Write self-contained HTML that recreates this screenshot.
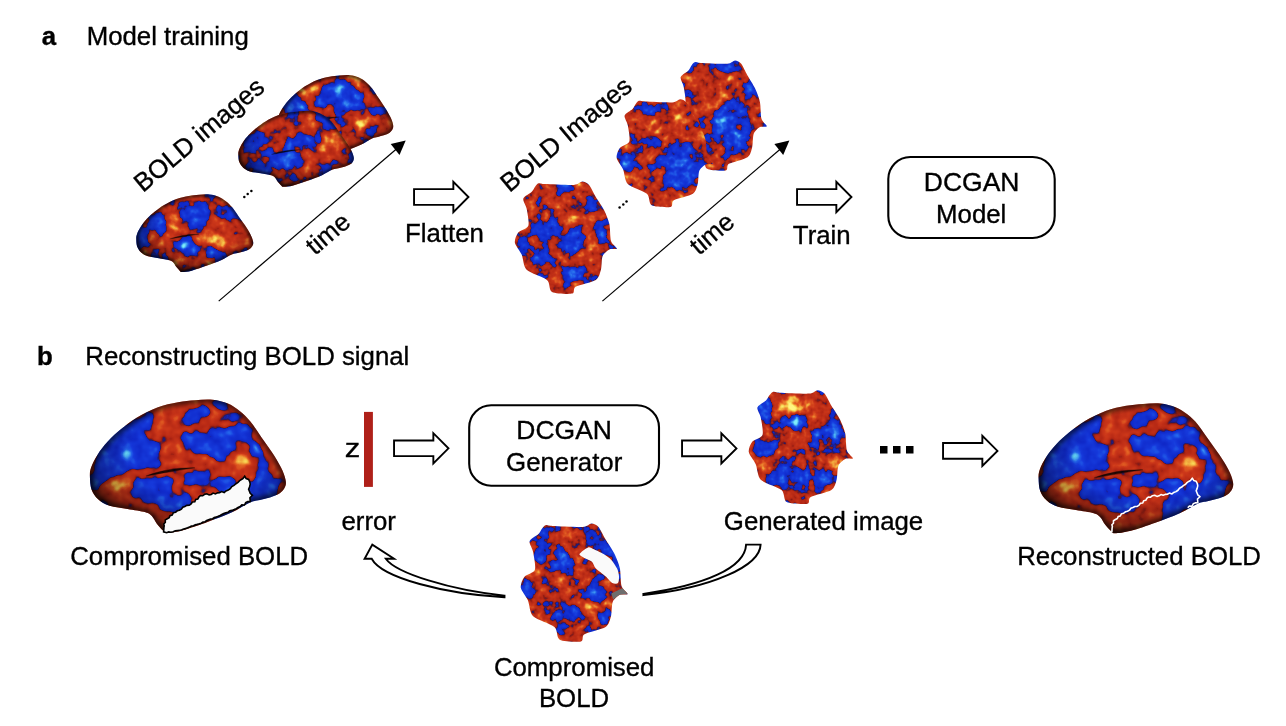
<!DOCTYPE html>
<html><head><meta charset="utf-8"><style>
html,body{margin:0;padding:0;background:#fff;width:1286px;height:726px;overflow:hidden}
svg{position:absolute;left:0;top:0;will-change:transform}
text{font-family:"Liberation Sans",sans-serif}
</style></head><body>
<svg width="1286" height="726" viewBox="0 0 1286 726">
<defs>
<filter id="sblur" x="-20%" y="-100%" width="140%" height="300%"><feGaussianBlur stdDeviation="0.6"/></filter>
<filter id="rimblur2" x="-10%" y="-10%" width="120%" height="120%"><feGaussianBlur stdDeviation="1.5"/></filter>
<filter id="rimblur" x="-10%" y="-10%" width="120%" height="120%"><feGaussianBlur stdDeviation="2.2"/></filter>
<radialGradient id="shade" cx="0.55" cy="0.4" r="0.62">
<stop offset="0.55" stop-color="#000" stop-opacity="0"/>
<stop offset="0.85" stop-color="#000" stop-opacity="0.3"/>
<stop offset="1" stop-color="#000" stop-opacity="0.7"/>
</radialGradient>
<clipPath id="c1"><path d="M0.6,77.0 C0.5,73.3 0.6,71.6 1.9,68.0 C3.1,64.4 5.3,59.9 8.1,55.6 C10.8,51.3 14.4,46.5 18.4,42.2 C22.3,37.9 27.0,33.8 31.8,29.8 C36.6,25.8 41.3,22.0 47.3,18.4 C53.3,14.8 61.1,10.7 68.0,8.1 C74.9,5.5 82.4,4.1 88.7,2.9 C95.0,1.7 99.9,1.3 105.7,0.9 C111.5,0.5 117.9,-0.1 123.4,0.5 C128.9,1.1 134.1,2.4 138.6,4.3 C143.1,6.2 146.9,8.9 150.7,11.9 C154.5,14.9 157.8,18.2 161.3,22.5 C164.8,26.8 168.4,32.7 171.9,37.7 C175.4,42.8 179.2,47.8 182.5,52.8 C185.8,57.8 189.3,63.5 191.6,68.0 C193.9,72.5 195.5,76.8 196.2,80.1 C196.9,83.3 196.8,85.2 195.8,87.5 C194.9,89.8 193.0,92.2 190.5,94.0 C188.0,95.8 184.0,97.1 180.7,98.2 C177.4,99.3 174.0,99.9 170.7,100.7 C167.4,101.5 165.4,101.2 160.7,103.2 C156.0,105.2 149.8,109.8 142.7,113.0 C135.6,116.2 126.4,119.7 118.2,122.7 C110.0,125.7 100.5,129.1 93.7,130.9 C86.9,132.7 80.7,133.4 77.3,133.4 C73.9,133.4 74.9,132.4 73.3,130.9 C71.7,129.4 69.3,126.7 67.5,124.4 C65.7,122.1 64.6,118.9 62.7,117.0 C60.8,115.1 60.2,114.2 56.1,113.0 C52.0,111.8 44.2,110.8 38.2,109.7 C32.2,108.6 25.1,108.0 20.2,106.4 C15.3,104.8 11.8,102.6 8.8,99.9 C5.8,97.2 3.6,93.9 2.2,90.1 C0.8,86.3 0.7,80.7 0.6,77.0Z" transform="translate(135.9,194.2) scale(0.5968,0.5841)"/></clipPath>
<filter id="f1" filterUnits="userSpaceOnUse" x="132.9" y="191.2" width="123.1" height="83.8" color-interpolation-filters="sRGB">
<feGaussianBlur in="SourceGraphic" stdDeviation="3" result="b"/>
<feTurbulence type="fractalNoise" baseFrequency="0.06" numOctaves="2" seed="61" result="t1"/>
<feColorMatrix in="t1" type="matrix" values="1 0 0 0 0 1 0 0 0 0 1 0 0 0 0 0 0 0 0 1" result="n1"/>
<feTurbulence type="fractalNoise" baseFrequency="0.14" numOctaves="2" seed="11" result="t2"/>
<feColorMatrix in="t2" type="matrix" values="0 1 0 0 0 0 1 0 0 0 0 1 0 0 0 0 0 0 0 1" result="n2"/>
<feComposite in="n1" in2="n2" operator="arithmetic" k1="0" k2="0.85" k3="0.4" k4="-0.125" result="m"/>
<feComposite in="m" in2="b" operator="arithmetic" k1="0" k2="1" k3="1" k4="-0.5"/>
<feComponentTransfer><feFuncR type="table" tableValues="0.510 0.497 0.484 0.471 0.458 0.444 0.431 0.418 0.405 0.392 0.379 0.366 0.353 0.343 0.333 0.324 0.314 0.304 0.294 0.284 0.275 0.265 0.255 0.245 0.235 0.225 0.216 0.206 0.196 0.186 0.176 0.167 0.157 0.147 0.137 0.135 0.133 0.130 0.128 0.126 0.123 0.121 0.119 0.116 0.114 0.112 0.109 0.107 0.105 0.102 0.100 0.098 0.096 0.093 0.091 0.089 0.086 0.085 0.085 0.084 0.083 0.082 0.081 0.081 0.080 0.079 0.078 0.077 0.077 0.076 0.075 0.074 0.073 0.073 0.072 0.071 0.070 0.069 0.069 0.068 0.067 0.066 0.065 0.064 0.064 0.063 0.062 0.061 0.060 0.060 0.059 0.073 0.087 0.101 0.115 0.129 0.143 0.157 0.213 0.269 0.325 0.381 0.437 0.493 0.549 0.568 0.586 0.605 0.624 0.642 0.661 0.679 0.698 0.702 0.706 0.709 0.713 0.717 0.721 0.725 0.728 0.732 0.736 0.740 0.743 0.747 0.751 0.755 0.759 0.762 0.766 0.770 0.774 0.777 0.781 0.785 0.789 0.793 0.796 0.800 0.804 0.809 0.814 0.819 0.824 0.829 0.834 0.839 0.844 0.849 0.854 0.859 0.864 0.869 0.874 0.879 0.884 0.889 0.894 0.898 0.902 0.905 0.909 0.913 0.916 0.920 0.924 0.927 0.931 0.935 0.939 0.942 0.946 0.950 0.953 0.957 0.961 0.962 0.964 0.966 0.967 0.969 0.971 0.972 0.974 0.975 0.977 0.979 0.980 0.982 0.984 0.985 0.987 0.989 0.990 0.992 0.993 0.995 0.997 0.998 1.000"/><feFuncG type="table" tableValues="0.922 0.910 0.899 0.887 0.876 0.864 0.853 0.842 0.830 0.819 0.807 0.796 0.784 0.766 0.749 0.731 0.713 0.695 0.677 0.660 0.642 0.624 0.606 0.588 0.570 0.553 0.535 0.517 0.499 0.481 0.463 0.446 0.428 0.410 0.392 0.385 0.377 0.370 0.362 0.355 0.347 0.340 0.332 0.325 0.317 0.310 0.302 0.295 0.287 0.280 0.272 0.265 0.257 0.250 0.242 0.235 0.227 0.225 0.223 0.221 0.219 0.217 0.215 0.213 0.211 0.209 0.207 0.205 0.203 0.200 0.198 0.196 0.194 0.192 0.190 0.188 0.186 0.184 0.182 0.180 0.178 0.176 0.173 0.171 0.169 0.167 0.165 0.163 0.161 0.159 0.157 0.148 0.140 0.132 0.123 0.115 0.106 0.098 0.100 0.101 0.103 0.105 0.106 0.108 0.110 0.115 0.120 0.125 0.129 0.134 0.139 0.144 0.149 0.152 0.154 0.157 0.159 0.162 0.164 0.167 0.169 0.172 0.174 0.177 0.179 0.182 0.184 0.187 0.189 0.192 0.194 0.197 0.199 0.202 0.204 0.207 0.210 0.212 0.215 0.217 0.220 0.229 0.239 0.248 0.258 0.268 0.277 0.287 0.296 0.306 0.315 0.325 0.335 0.344 0.354 0.363 0.373 0.383 0.392 0.412 0.431 0.451 0.471 0.490 0.510 0.529 0.549 0.569 0.588 0.608 0.627 0.647 0.667 0.686 0.706 0.725 0.745 0.758 0.771 0.784 0.797 0.810 0.824 0.837 0.850 0.863 0.876 0.889 0.902 0.907 0.912 0.917 0.922 0.926 0.931 0.936 0.941 0.946 0.951 0.956 0.961"/><feFuncB type="table" tableValues="0.980 0.979 0.977 0.975 0.974 0.972 0.971 0.969 0.967 0.966 0.964 0.962 0.961 0.959 0.957 0.955 0.954 0.952 0.950 0.948 0.947 0.945 0.943 0.941 0.939 0.938 0.936 0.934 0.932 0.930 0.929 0.927 0.925 0.923 0.922 0.919 0.916 0.914 0.911 0.908 0.906 0.903 0.900 0.898 0.895 0.892 0.889 0.887 0.884 0.881 0.879 0.876 0.873 0.871 0.868 0.865 0.863 0.860 0.858 0.856 0.854 0.851 0.849 0.847 0.844 0.842 0.840 0.837 0.835 0.833 0.830 0.828 0.826 0.824 0.821 0.819 0.817 0.814 0.812 0.810 0.807 0.805 0.803 0.800 0.798 0.796 0.794 0.791 0.789 0.787 0.784 0.728 0.672 0.616 0.560 0.504 0.448 0.392 0.347 0.303 0.258 0.213 0.168 0.123 0.078 0.078 0.078 0.078 0.078 0.078 0.078 0.078 0.078 0.079 0.080 0.081 0.082 0.083 0.083 0.084 0.085 0.086 0.087 0.088 0.089 0.089 0.090 0.091 0.092 0.093 0.094 0.094 0.095 0.096 0.097 0.098 0.099 0.099 0.100 0.101 0.102 0.104 0.106 0.108 0.111 0.113 0.115 0.117 0.119 0.122 0.124 0.126 0.128 0.130 0.132 0.135 0.137 0.139 0.141 0.149 0.156 0.163 0.171 0.178 0.186 0.193 0.200 0.208 0.215 0.223 0.230 0.237 0.245 0.252 0.260 0.267 0.275 0.284 0.294 0.304 0.314 0.324 0.333 0.343 0.353 0.363 0.373 0.382 0.392 0.402 0.412 0.422 0.431 0.441 0.451 0.461 0.471 0.480 0.490 0.500 0.510"/></feComponentTransfer>
</filter>
<clipPath id="c2"><path d="M0.6,77.0 C0.5,73.3 0.6,71.6 1.9,68.0 C3.1,64.4 5.3,59.9 8.1,55.6 C10.8,51.3 14.4,46.5 18.4,42.2 C22.3,37.9 27.0,33.8 31.8,29.8 C36.6,25.8 41.3,22.0 47.3,18.4 C53.3,14.8 61.1,10.7 68.0,8.1 C74.9,5.5 82.4,4.1 88.7,2.9 C95.0,1.7 99.9,1.3 105.7,0.9 C111.5,0.5 117.9,-0.1 123.4,0.5 C128.9,1.1 134.1,2.4 138.6,4.3 C143.1,6.2 146.9,8.9 150.7,11.9 C154.5,14.9 157.8,18.2 161.3,22.5 C164.8,26.8 168.4,32.7 171.9,37.7 C175.4,42.8 179.2,47.8 182.5,52.8 C185.8,57.8 189.3,63.5 191.6,68.0 C193.9,72.5 195.5,76.8 196.2,80.1 C196.9,83.3 196.8,85.2 195.8,87.5 C194.9,89.8 193.0,92.2 190.5,94.0 C188.0,95.8 184.0,97.1 180.7,98.2 C177.4,99.3 174.0,99.9 170.7,100.7 C167.4,101.5 165.4,101.2 160.7,103.2 C156.0,105.2 149.8,109.8 142.7,113.0 C135.6,116.2 126.4,119.7 118.2,122.7 C110.0,125.7 100.5,129.1 93.7,130.9 C86.9,132.7 80.7,133.4 77.3,133.4 C73.9,133.4 74.9,132.4 73.3,130.9 C71.7,129.4 69.3,126.7 67.5,124.4 C65.7,122.1 64.6,118.9 62.7,117.0 C60.8,115.1 60.2,114.2 56.1,113.0 C52.0,111.8 44.2,110.8 38.2,109.7 C32.2,108.6 25.1,108.0 20.2,106.4 C15.3,104.8 11.8,102.6 8.8,99.9 C5.8,97.2 3.6,93.9 2.2,90.1 C0.8,86.3 0.7,80.7 0.6,77.0Z" transform="translate(277,74.9) scale(0.5912,0.6156)"/></clipPath>
<filter id="f2" filterUnits="userSpaceOnUse" x="274" y="71.9" width="122" height="88" color-interpolation-filters="sRGB">
<feGaussianBlur in="SourceGraphic" stdDeviation="3" result="b"/>
<feTurbulence type="fractalNoise" baseFrequency="0.06" numOctaves="2" seed="62" result="t1"/>
<feColorMatrix in="t1" type="matrix" values="1 0 0 0 0 1 0 0 0 0 1 0 0 0 0 0 0 0 0 1" result="n1"/>
<feTurbulence type="fractalNoise" baseFrequency="0.14" numOctaves="2" seed="12" result="t2"/>
<feColorMatrix in="t2" type="matrix" values="0 1 0 0 0 0 1 0 0 0 0 1 0 0 0 0 0 0 0 1" result="n2"/>
<feComposite in="n1" in2="n2" operator="arithmetic" k1="0" k2="0.85" k3="0.4" k4="-0.125" result="m"/>
<feComposite in="m" in2="b" operator="arithmetic" k1="0" k2="1" k3="1" k4="-0.5"/>
<feComponentTransfer><feFuncR type="table" tableValues="0.510 0.497 0.484 0.471 0.458 0.444 0.431 0.418 0.405 0.392 0.379 0.366 0.353 0.343 0.333 0.324 0.314 0.304 0.294 0.284 0.275 0.265 0.255 0.245 0.235 0.225 0.216 0.206 0.196 0.186 0.176 0.167 0.157 0.147 0.137 0.135 0.133 0.130 0.128 0.126 0.123 0.121 0.119 0.116 0.114 0.112 0.109 0.107 0.105 0.102 0.100 0.098 0.096 0.093 0.091 0.089 0.086 0.085 0.085 0.084 0.083 0.082 0.081 0.081 0.080 0.079 0.078 0.077 0.077 0.076 0.075 0.074 0.073 0.073 0.072 0.071 0.070 0.069 0.069 0.068 0.067 0.066 0.065 0.064 0.064 0.063 0.062 0.061 0.060 0.060 0.059 0.073 0.087 0.101 0.115 0.129 0.143 0.157 0.213 0.269 0.325 0.381 0.437 0.493 0.549 0.568 0.586 0.605 0.624 0.642 0.661 0.679 0.698 0.702 0.706 0.709 0.713 0.717 0.721 0.725 0.728 0.732 0.736 0.740 0.743 0.747 0.751 0.755 0.759 0.762 0.766 0.770 0.774 0.777 0.781 0.785 0.789 0.793 0.796 0.800 0.804 0.809 0.814 0.819 0.824 0.829 0.834 0.839 0.844 0.849 0.854 0.859 0.864 0.869 0.874 0.879 0.884 0.889 0.894 0.898 0.902 0.905 0.909 0.913 0.916 0.920 0.924 0.927 0.931 0.935 0.939 0.942 0.946 0.950 0.953 0.957 0.961 0.962 0.964 0.966 0.967 0.969 0.971 0.972 0.974 0.975 0.977 0.979 0.980 0.982 0.984 0.985 0.987 0.989 0.990 0.992 0.993 0.995 0.997 0.998 1.000"/><feFuncG type="table" tableValues="0.922 0.910 0.899 0.887 0.876 0.864 0.853 0.842 0.830 0.819 0.807 0.796 0.784 0.766 0.749 0.731 0.713 0.695 0.677 0.660 0.642 0.624 0.606 0.588 0.570 0.553 0.535 0.517 0.499 0.481 0.463 0.446 0.428 0.410 0.392 0.385 0.377 0.370 0.362 0.355 0.347 0.340 0.332 0.325 0.317 0.310 0.302 0.295 0.287 0.280 0.272 0.265 0.257 0.250 0.242 0.235 0.227 0.225 0.223 0.221 0.219 0.217 0.215 0.213 0.211 0.209 0.207 0.205 0.203 0.200 0.198 0.196 0.194 0.192 0.190 0.188 0.186 0.184 0.182 0.180 0.178 0.176 0.173 0.171 0.169 0.167 0.165 0.163 0.161 0.159 0.157 0.148 0.140 0.132 0.123 0.115 0.106 0.098 0.100 0.101 0.103 0.105 0.106 0.108 0.110 0.115 0.120 0.125 0.129 0.134 0.139 0.144 0.149 0.152 0.154 0.157 0.159 0.162 0.164 0.167 0.169 0.172 0.174 0.177 0.179 0.182 0.184 0.187 0.189 0.192 0.194 0.197 0.199 0.202 0.204 0.207 0.210 0.212 0.215 0.217 0.220 0.229 0.239 0.248 0.258 0.268 0.277 0.287 0.296 0.306 0.315 0.325 0.335 0.344 0.354 0.363 0.373 0.383 0.392 0.412 0.431 0.451 0.471 0.490 0.510 0.529 0.549 0.569 0.588 0.608 0.627 0.647 0.667 0.686 0.706 0.725 0.745 0.758 0.771 0.784 0.797 0.810 0.824 0.837 0.850 0.863 0.876 0.889 0.902 0.907 0.912 0.917 0.922 0.926 0.931 0.936 0.941 0.946 0.951 0.956 0.961"/><feFuncB type="table" tableValues="0.980 0.979 0.977 0.975 0.974 0.972 0.971 0.969 0.967 0.966 0.964 0.962 0.961 0.959 0.957 0.955 0.954 0.952 0.950 0.948 0.947 0.945 0.943 0.941 0.939 0.938 0.936 0.934 0.932 0.930 0.929 0.927 0.925 0.923 0.922 0.919 0.916 0.914 0.911 0.908 0.906 0.903 0.900 0.898 0.895 0.892 0.889 0.887 0.884 0.881 0.879 0.876 0.873 0.871 0.868 0.865 0.863 0.860 0.858 0.856 0.854 0.851 0.849 0.847 0.844 0.842 0.840 0.837 0.835 0.833 0.830 0.828 0.826 0.824 0.821 0.819 0.817 0.814 0.812 0.810 0.807 0.805 0.803 0.800 0.798 0.796 0.794 0.791 0.789 0.787 0.784 0.728 0.672 0.616 0.560 0.504 0.448 0.392 0.347 0.303 0.258 0.213 0.168 0.123 0.078 0.078 0.078 0.078 0.078 0.078 0.078 0.078 0.078 0.079 0.080 0.081 0.082 0.083 0.083 0.084 0.085 0.086 0.087 0.088 0.089 0.089 0.090 0.091 0.092 0.093 0.094 0.094 0.095 0.096 0.097 0.098 0.099 0.099 0.100 0.101 0.102 0.104 0.106 0.108 0.111 0.113 0.115 0.117 0.119 0.122 0.124 0.126 0.128 0.130 0.132 0.135 0.137 0.139 0.141 0.149 0.156 0.163 0.171 0.178 0.186 0.193 0.200 0.208 0.215 0.223 0.230 0.237 0.245 0.252 0.260 0.267 0.275 0.284 0.294 0.304 0.314 0.324 0.333 0.343 0.353 0.363 0.373 0.382 0.392 0.402 0.412 0.422 0.431 0.441 0.451 0.461 0.471 0.480 0.490 0.500 0.510"/></feComponentTransfer>
</filter>
<clipPath id="c3"><path d="M0.6,77.0 C0.5,73.3 0.6,71.6 1.9,68.0 C3.1,64.4 5.3,59.9 8.1,55.6 C10.8,51.3 14.4,46.5 18.4,42.2 C22.3,37.9 27.0,33.8 31.8,29.8 C36.6,25.8 41.3,22.0 47.3,18.4 C53.3,14.8 61.1,10.7 68.0,8.1 C74.9,5.5 82.4,4.1 88.7,2.9 C95.0,1.7 99.9,1.3 105.7,0.9 C111.5,0.5 117.9,-0.1 123.4,0.5 C128.9,1.1 134.1,2.4 138.6,4.3 C143.1,6.2 146.9,8.9 150.7,11.9 C154.5,14.9 157.8,18.2 161.3,22.5 C164.8,26.8 168.4,32.7 171.9,37.7 C175.4,42.8 179.2,47.8 182.5,52.8 C185.8,57.8 189.3,63.5 191.6,68.0 C193.9,72.5 195.5,76.8 196.2,80.1 C196.9,83.3 196.8,85.2 195.8,87.5 C194.9,89.8 193.0,92.2 190.5,94.0 C188.0,95.8 184.0,97.1 180.7,98.2 C177.4,99.3 174.0,99.9 170.7,100.7 C167.4,101.5 165.4,101.2 160.7,103.2 C156.0,105.2 149.8,109.8 142.7,113.0 C135.6,116.2 126.4,119.7 118.2,122.7 C110.0,125.7 100.5,129.1 93.7,130.9 C86.9,132.7 80.7,133.4 77.3,133.4 C73.9,133.4 74.9,132.4 73.3,130.9 C71.7,129.4 69.3,126.7 67.5,124.4 C65.7,122.1 64.6,118.9 62.7,117.0 C60.8,115.1 60.2,114.2 56.1,113.0 C52.0,111.8 44.2,110.8 38.2,109.7 C32.2,108.6 25.1,108.0 20.2,106.4 C15.3,104.8 11.8,102.6 8.8,99.9 C5.8,97.2 3.6,93.9 2.2,90.1 C0.8,86.3 0.7,80.7 0.6,77.0Z" transform="translate(238,110.7) scale(0.5892,0.5706)"/></clipPath>
<filter id="f3" filterUnits="userSpaceOnUse" x="235" y="107.7" width="121.6" height="82" color-interpolation-filters="sRGB">
<feGaussianBlur in="SourceGraphic" stdDeviation="3" result="b"/>
<feTurbulence type="fractalNoise" baseFrequency="0.06" numOctaves="2" seed="63" result="t1"/>
<feColorMatrix in="t1" type="matrix" values="1 0 0 0 0 1 0 0 0 0 1 0 0 0 0 0 0 0 0 1" result="n1"/>
<feTurbulence type="fractalNoise" baseFrequency="0.14" numOctaves="2" seed="13" result="t2"/>
<feColorMatrix in="t2" type="matrix" values="0 1 0 0 0 0 1 0 0 0 0 1 0 0 0 0 0 0 0 1" result="n2"/>
<feComposite in="n1" in2="n2" operator="arithmetic" k1="0" k2="0.85" k3="0.4" k4="-0.125" result="m"/>
<feComposite in="m" in2="b" operator="arithmetic" k1="0" k2="1" k3="1" k4="-0.5"/>
<feComponentTransfer><feFuncR type="table" tableValues="0.510 0.497 0.484 0.471 0.458 0.444 0.431 0.418 0.405 0.392 0.379 0.366 0.353 0.343 0.333 0.324 0.314 0.304 0.294 0.284 0.275 0.265 0.255 0.245 0.235 0.225 0.216 0.206 0.196 0.186 0.176 0.167 0.157 0.147 0.137 0.135 0.133 0.130 0.128 0.126 0.123 0.121 0.119 0.116 0.114 0.112 0.109 0.107 0.105 0.102 0.100 0.098 0.096 0.093 0.091 0.089 0.086 0.085 0.085 0.084 0.083 0.082 0.081 0.081 0.080 0.079 0.078 0.077 0.077 0.076 0.075 0.074 0.073 0.073 0.072 0.071 0.070 0.069 0.069 0.068 0.067 0.066 0.065 0.064 0.064 0.063 0.062 0.061 0.060 0.060 0.059 0.073 0.087 0.101 0.115 0.129 0.143 0.157 0.213 0.269 0.325 0.381 0.437 0.493 0.549 0.568 0.586 0.605 0.624 0.642 0.661 0.679 0.698 0.702 0.706 0.709 0.713 0.717 0.721 0.725 0.728 0.732 0.736 0.740 0.743 0.747 0.751 0.755 0.759 0.762 0.766 0.770 0.774 0.777 0.781 0.785 0.789 0.793 0.796 0.800 0.804 0.809 0.814 0.819 0.824 0.829 0.834 0.839 0.844 0.849 0.854 0.859 0.864 0.869 0.874 0.879 0.884 0.889 0.894 0.898 0.902 0.905 0.909 0.913 0.916 0.920 0.924 0.927 0.931 0.935 0.939 0.942 0.946 0.950 0.953 0.957 0.961 0.962 0.964 0.966 0.967 0.969 0.971 0.972 0.974 0.975 0.977 0.979 0.980 0.982 0.984 0.985 0.987 0.989 0.990 0.992 0.993 0.995 0.997 0.998 1.000"/><feFuncG type="table" tableValues="0.922 0.910 0.899 0.887 0.876 0.864 0.853 0.842 0.830 0.819 0.807 0.796 0.784 0.766 0.749 0.731 0.713 0.695 0.677 0.660 0.642 0.624 0.606 0.588 0.570 0.553 0.535 0.517 0.499 0.481 0.463 0.446 0.428 0.410 0.392 0.385 0.377 0.370 0.362 0.355 0.347 0.340 0.332 0.325 0.317 0.310 0.302 0.295 0.287 0.280 0.272 0.265 0.257 0.250 0.242 0.235 0.227 0.225 0.223 0.221 0.219 0.217 0.215 0.213 0.211 0.209 0.207 0.205 0.203 0.200 0.198 0.196 0.194 0.192 0.190 0.188 0.186 0.184 0.182 0.180 0.178 0.176 0.173 0.171 0.169 0.167 0.165 0.163 0.161 0.159 0.157 0.148 0.140 0.132 0.123 0.115 0.106 0.098 0.100 0.101 0.103 0.105 0.106 0.108 0.110 0.115 0.120 0.125 0.129 0.134 0.139 0.144 0.149 0.152 0.154 0.157 0.159 0.162 0.164 0.167 0.169 0.172 0.174 0.177 0.179 0.182 0.184 0.187 0.189 0.192 0.194 0.197 0.199 0.202 0.204 0.207 0.210 0.212 0.215 0.217 0.220 0.229 0.239 0.248 0.258 0.268 0.277 0.287 0.296 0.306 0.315 0.325 0.335 0.344 0.354 0.363 0.373 0.383 0.392 0.412 0.431 0.451 0.471 0.490 0.510 0.529 0.549 0.569 0.588 0.608 0.627 0.647 0.667 0.686 0.706 0.725 0.745 0.758 0.771 0.784 0.797 0.810 0.824 0.837 0.850 0.863 0.876 0.889 0.902 0.907 0.912 0.917 0.922 0.926 0.931 0.936 0.941 0.946 0.951 0.956 0.961"/><feFuncB type="table" tableValues="0.980 0.979 0.977 0.975 0.974 0.972 0.971 0.969 0.967 0.966 0.964 0.962 0.961 0.959 0.957 0.955 0.954 0.952 0.950 0.948 0.947 0.945 0.943 0.941 0.939 0.938 0.936 0.934 0.932 0.930 0.929 0.927 0.925 0.923 0.922 0.919 0.916 0.914 0.911 0.908 0.906 0.903 0.900 0.898 0.895 0.892 0.889 0.887 0.884 0.881 0.879 0.876 0.873 0.871 0.868 0.865 0.863 0.860 0.858 0.856 0.854 0.851 0.849 0.847 0.844 0.842 0.840 0.837 0.835 0.833 0.830 0.828 0.826 0.824 0.821 0.819 0.817 0.814 0.812 0.810 0.807 0.805 0.803 0.800 0.798 0.796 0.794 0.791 0.789 0.787 0.784 0.728 0.672 0.616 0.560 0.504 0.448 0.392 0.347 0.303 0.258 0.213 0.168 0.123 0.078 0.078 0.078 0.078 0.078 0.078 0.078 0.078 0.078 0.079 0.080 0.081 0.082 0.083 0.083 0.084 0.085 0.086 0.087 0.088 0.089 0.089 0.090 0.091 0.092 0.093 0.094 0.094 0.095 0.096 0.097 0.098 0.099 0.099 0.100 0.101 0.102 0.104 0.106 0.108 0.111 0.113 0.115 0.117 0.119 0.122 0.124 0.126 0.128 0.130 0.132 0.135 0.137 0.139 0.141 0.149 0.156 0.163 0.171 0.178 0.186 0.193 0.200 0.208 0.215 0.223 0.230 0.237 0.245 0.252 0.260 0.267 0.275 0.284 0.294 0.304 0.314 0.324 0.333 0.343 0.353 0.363 0.373 0.382 0.392 0.402 0.412 0.422 0.431 0.441 0.451 0.461 0.471 0.480 0.490 0.500 0.510"/></feComponentTransfer>
</filter>
<clipPath id="c4"><path d="M24.1,1.7 C25.5,1.4 26.2,2.3 31.0,2.5 C35.8,2.7 55.2,3.7 60.2,3.4 C65.2,3.1 66.7,0.0 68.8,0.0 C70.9,0.0 73.9,1.3 75.7,3.4 C77.5,5.5 80.5,12.1 82.6,15.5 C84.7,18.9 89.4,25.5 91.2,29.2 C93.0,32.9 95.5,38.9 96.4,43.0 C97.3,47.1 97.1,56.9 98.1,60.2 C99.1,63.5 104.3,66.9 104.1,68.0 C103.9,69.1 98.3,67.8 96.4,68.8 C94.5,69.8 90.6,72.9 89.5,75.7 C88.4,78.5 88.7,86.3 87.8,89.5 C86.9,92.7 86.0,97.5 82.6,99.8 C79.2,102.1 65.2,104.9 62.0,106.7 C58.8,108.5 61.7,112.9 58.5,113.6 C55.3,114.3 41.3,113.7 37.9,111.9 C34.5,110.1 36.2,102.8 32.7,99.8 C29.2,96.8 15.4,92.9 12.0,89.5 C8.6,86.1 8.5,77.7 6.9,74.0 C5.3,70.3 0.5,64.9 0.0,61.9 C-0.5,58.9 1.6,53.9 3.4,51.6 C5.2,49.3 12.6,47.9 13.7,44.7 C14.8,41.5 12.7,31.2 12.0,27.5 C11.3,23.8 7.9,19.5 8.6,17.2 C9.3,14.9 15.6,11.9 17.2,10.3 C18.8,8.7 19.7,6.2 20.6,5.1 C21.5,4.0 22.7,2.0 24.1,1.7Z" transform="translate(672.9,60.5) scale(0.9030,0.9683)"/></clipPath>
<filter id="f4" filterUnits="userSpaceOnUse" x="669.9" y="57.5" width="100" height="116" color-interpolation-filters="sRGB">
<feGaussianBlur in="SourceGraphic" stdDeviation="2.5" result="b"/>
<feTurbulence type="fractalNoise" baseFrequency="0.07" numOctaves="2" seed="71" result="t1"/>
<feColorMatrix in="t1" type="matrix" values="1 0 0 0 0 1 0 0 0 0 1 0 0 0 0 0 0 0 0 1" result="n1"/>
<feTurbulence type="fractalNoise" baseFrequency="0.16" numOctaves="2" seed="21" result="t2"/>
<feColorMatrix in="t2" type="matrix" values="0 1 0 0 0 0 1 0 0 0 0 1 0 0 0 0 0 0 0 1" result="n2"/>
<feComposite in="n1" in2="n2" operator="arithmetic" k1="0" k2="0.7" k3="0.45" k4="-0.075" result="m"/>
<feComposite in="m" in2="b" operator="arithmetic" k1="0" k2="1" k3="1" k4="-0.5"/>
<feComponentTransfer><feFuncR type="table" tableValues="0.510 0.497 0.484 0.471 0.458 0.444 0.431 0.418 0.405 0.392 0.379 0.366 0.353 0.343 0.333 0.324 0.314 0.304 0.294 0.284 0.275 0.265 0.255 0.245 0.235 0.225 0.216 0.206 0.196 0.186 0.176 0.167 0.157 0.147 0.137 0.135 0.133 0.130 0.128 0.126 0.123 0.121 0.119 0.116 0.114 0.112 0.109 0.107 0.105 0.102 0.100 0.098 0.096 0.093 0.091 0.089 0.086 0.085 0.085 0.084 0.083 0.082 0.081 0.081 0.080 0.079 0.078 0.077 0.077 0.076 0.075 0.074 0.073 0.073 0.072 0.071 0.070 0.069 0.069 0.068 0.067 0.066 0.065 0.064 0.064 0.063 0.062 0.061 0.060 0.060 0.059 0.073 0.087 0.101 0.115 0.129 0.143 0.157 0.213 0.269 0.325 0.381 0.437 0.493 0.549 0.568 0.586 0.605 0.624 0.642 0.661 0.679 0.698 0.702 0.706 0.709 0.713 0.717 0.721 0.725 0.728 0.732 0.736 0.740 0.743 0.747 0.751 0.755 0.759 0.762 0.766 0.770 0.774 0.777 0.781 0.785 0.789 0.793 0.796 0.800 0.804 0.809 0.814 0.819 0.824 0.829 0.834 0.839 0.844 0.849 0.854 0.859 0.864 0.869 0.874 0.879 0.884 0.889 0.894 0.898 0.902 0.905 0.909 0.913 0.916 0.920 0.924 0.927 0.931 0.935 0.939 0.942 0.946 0.950 0.953 0.957 0.961 0.962 0.964 0.966 0.967 0.969 0.971 0.972 0.974 0.975 0.977 0.979 0.980 0.982 0.984 0.985 0.987 0.989 0.990 0.992 0.993 0.995 0.997 0.998 1.000"/><feFuncG type="table" tableValues="0.922 0.910 0.899 0.887 0.876 0.864 0.853 0.842 0.830 0.819 0.807 0.796 0.784 0.766 0.749 0.731 0.713 0.695 0.677 0.660 0.642 0.624 0.606 0.588 0.570 0.553 0.535 0.517 0.499 0.481 0.463 0.446 0.428 0.410 0.392 0.385 0.377 0.370 0.362 0.355 0.347 0.340 0.332 0.325 0.317 0.310 0.302 0.295 0.287 0.280 0.272 0.265 0.257 0.250 0.242 0.235 0.227 0.225 0.223 0.221 0.219 0.217 0.215 0.213 0.211 0.209 0.207 0.205 0.203 0.200 0.198 0.196 0.194 0.192 0.190 0.188 0.186 0.184 0.182 0.180 0.178 0.176 0.173 0.171 0.169 0.167 0.165 0.163 0.161 0.159 0.157 0.148 0.140 0.132 0.123 0.115 0.106 0.098 0.100 0.101 0.103 0.105 0.106 0.108 0.110 0.115 0.120 0.125 0.129 0.134 0.139 0.144 0.149 0.152 0.154 0.157 0.159 0.162 0.164 0.167 0.169 0.172 0.174 0.177 0.179 0.182 0.184 0.187 0.189 0.192 0.194 0.197 0.199 0.202 0.204 0.207 0.210 0.212 0.215 0.217 0.220 0.229 0.239 0.248 0.258 0.268 0.277 0.287 0.296 0.306 0.315 0.325 0.335 0.344 0.354 0.363 0.373 0.383 0.392 0.412 0.431 0.451 0.471 0.490 0.510 0.529 0.549 0.569 0.588 0.608 0.627 0.647 0.667 0.686 0.706 0.725 0.745 0.758 0.771 0.784 0.797 0.810 0.824 0.837 0.850 0.863 0.876 0.889 0.902 0.907 0.912 0.917 0.922 0.926 0.931 0.936 0.941 0.946 0.951 0.956 0.961"/><feFuncB type="table" tableValues="0.980 0.979 0.977 0.975 0.974 0.972 0.971 0.969 0.967 0.966 0.964 0.962 0.961 0.959 0.957 0.955 0.954 0.952 0.950 0.948 0.947 0.945 0.943 0.941 0.939 0.938 0.936 0.934 0.932 0.930 0.929 0.927 0.925 0.923 0.922 0.919 0.916 0.914 0.911 0.908 0.906 0.903 0.900 0.898 0.895 0.892 0.889 0.887 0.884 0.881 0.879 0.876 0.873 0.871 0.868 0.865 0.863 0.860 0.858 0.856 0.854 0.851 0.849 0.847 0.844 0.842 0.840 0.837 0.835 0.833 0.830 0.828 0.826 0.824 0.821 0.819 0.817 0.814 0.812 0.810 0.807 0.805 0.803 0.800 0.798 0.796 0.794 0.791 0.789 0.787 0.784 0.728 0.672 0.616 0.560 0.504 0.448 0.392 0.347 0.303 0.258 0.213 0.168 0.123 0.078 0.078 0.078 0.078 0.078 0.078 0.078 0.078 0.078 0.079 0.080 0.081 0.082 0.083 0.083 0.084 0.085 0.086 0.087 0.088 0.089 0.089 0.090 0.091 0.092 0.093 0.094 0.094 0.095 0.096 0.097 0.098 0.099 0.099 0.100 0.101 0.102 0.104 0.106 0.108 0.111 0.113 0.115 0.117 0.119 0.122 0.124 0.126 0.128 0.130 0.132 0.135 0.137 0.139 0.141 0.149 0.156 0.163 0.171 0.178 0.186 0.193 0.200 0.208 0.215 0.223 0.230 0.237 0.245 0.252 0.260 0.267 0.275 0.284 0.294 0.304 0.314 0.324 0.333 0.343 0.353 0.363 0.373 0.382 0.392 0.402 0.412 0.422 0.431 0.441 0.451 0.461 0.471 0.480 0.490 0.500 0.510"/></feComponentTransfer>
</filter>
<clipPath id="c5"><path d="M24.1,1.7 C25.5,1.4 26.2,2.3 31.0,2.5 C35.8,2.7 55.2,3.7 60.2,3.4 C65.2,3.1 66.7,0.0 68.8,0.0 C70.9,0.0 73.9,1.3 75.7,3.4 C77.5,5.5 80.5,12.1 82.6,15.5 C84.7,18.9 89.4,25.5 91.2,29.2 C93.0,32.9 95.5,38.9 96.4,43.0 C97.3,47.1 97.1,56.9 98.1,60.2 C99.1,63.5 104.3,66.9 104.1,68.0 C103.9,69.1 98.3,67.8 96.4,68.8 C94.5,69.8 90.6,72.9 89.5,75.7 C88.4,78.5 88.7,86.3 87.8,89.5 C86.9,92.7 86.0,97.5 82.6,99.8 C79.2,102.1 65.2,104.9 62.0,106.7 C58.8,108.5 61.7,112.9 58.5,113.6 C55.3,114.3 41.3,113.7 37.9,111.9 C34.5,110.1 36.2,102.8 32.7,99.8 C29.2,96.8 15.4,92.9 12.0,89.5 C8.6,86.1 8.5,77.7 6.9,74.0 C5.3,70.3 0.5,64.9 0.0,61.9 C-0.5,58.9 1.6,53.9 3.4,51.6 C5.2,49.3 12.6,47.9 13.7,44.7 C14.8,41.5 12.7,31.2 12.0,27.5 C11.3,23.8 7.9,19.5 8.6,17.2 C9.3,14.9 15.6,11.9 17.2,10.3 C18.8,8.7 19.7,6.2 20.6,5.1 C21.5,4.0 22.7,2.0 24.1,1.7Z" transform="translate(616.7,99.2) scale(0.9222,0.9481)"/></clipPath>
<filter id="f5" filterUnits="userSpaceOnUse" x="613.7" y="96.2" width="102" height="113.7" color-interpolation-filters="sRGB">
<feGaussianBlur in="SourceGraphic" stdDeviation="2.5" result="b"/>
<feTurbulence type="fractalNoise" baseFrequency="0.07" numOctaves="2" seed="72" result="t1"/>
<feColorMatrix in="t1" type="matrix" values="1 0 0 0 0 1 0 0 0 0 1 0 0 0 0 0 0 0 0 1" result="n1"/>
<feTurbulence type="fractalNoise" baseFrequency="0.16" numOctaves="2" seed="22" result="t2"/>
<feColorMatrix in="t2" type="matrix" values="0 1 0 0 0 0 1 0 0 0 0 1 0 0 0 0 0 0 0 1" result="n2"/>
<feComposite in="n1" in2="n2" operator="arithmetic" k1="0" k2="0.7" k3="0.45" k4="-0.075" result="m"/>
<feComposite in="m" in2="b" operator="arithmetic" k1="0" k2="1" k3="1" k4="-0.5"/>
<feComponentTransfer><feFuncR type="table" tableValues="0.510 0.497 0.484 0.471 0.458 0.444 0.431 0.418 0.405 0.392 0.379 0.366 0.353 0.343 0.333 0.324 0.314 0.304 0.294 0.284 0.275 0.265 0.255 0.245 0.235 0.225 0.216 0.206 0.196 0.186 0.176 0.167 0.157 0.147 0.137 0.135 0.133 0.130 0.128 0.126 0.123 0.121 0.119 0.116 0.114 0.112 0.109 0.107 0.105 0.102 0.100 0.098 0.096 0.093 0.091 0.089 0.086 0.085 0.085 0.084 0.083 0.082 0.081 0.081 0.080 0.079 0.078 0.077 0.077 0.076 0.075 0.074 0.073 0.073 0.072 0.071 0.070 0.069 0.069 0.068 0.067 0.066 0.065 0.064 0.064 0.063 0.062 0.061 0.060 0.060 0.059 0.073 0.087 0.101 0.115 0.129 0.143 0.157 0.213 0.269 0.325 0.381 0.437 0.493 0.549 0.568 0.586 0.605 0.624 0.642 0.661 0.679 0.698 0.702 0.706 0.709 0.713 0.717 0.721 0.725 0.728 0.732 0.736 0.740 0.743 0.747 0.751 0.755 0.759 0.762 0.766 0.770 0.774 0.777 0.781 0.785 0.789 0.793 0.796 0.800 0.804 0.809 0.814 0.819 0.824 0.829 0.834 0.839 0.844 0.849 0.854 0.859 0.864 0.869 0.874 0.879 0.884 0.889 0.894 0.898 0.902 0.905 0.909 0.913 0.916 0.920 0.924 0.927 0.931 0.935 0.939 0.942 0.946 0.950 0.953 0.957 0.961 0.962 0.964 0.966 0.967 0.969 0.971 0.972 0.974 0.975 0.977 0.979 0.980 0.982 0.984 0.985 0.987 0.989 0.990 0.992 0.993 0.995 0.997 0.998 1.000"/><feFuncG type="table" tableValues="0.922 0.910 0.899 0.887 0.876 0.864 0.853 0.842 0.830 0.819 0.807 0.796 0.784 0.766 0.749 0.731 0.713 0.695 0.677 0.660 0.642 0.624 0.606 0.588 0.570 0.553 0.535 0.517 0.499 0.481 0.463 0.446 0.428 0.410 0.392 0.385 0.377 0.370 0.362 0.355 0.347 0.340 0.332 0.325 0.317 0.310 0.302 0.295 0.287 0.280 0.272 0.265 0.257 0.250 0.242 0.235 0.227 0.225 0.223 0.221 0.219 0.217 0.215 0.213 0.211 0.209 0.207 0.205 0.203 0.200 0.198 0.196 0.194 0.192 0.190 0.188 0.186 0.184 0.182 0.180 0.178 0.176 0.173 0.171 0.169 0.167 0.165 0.163 0.161 0.159 0.157 0.148 0.140 0.132 0.123 0.115 0.106 0.098 0.100 0.101 0.103 0.105 0.106 0.108 0.110 0.115 0.120 0.125 0.129 0.134 0.139 0.144 0.149 0.152 0.154 0.157 0.159 0.162 0.164 0.167 0.169 0.172 0.174 0.177 0.179 0.182 0.184 0.187 0.189 0.192 0.194 0.197 0.199 0.202 0.204 0.207 0.210 0.212 0.215 0.217 0.220 0.229 0.239 0.248 0.258 0.268 0.277 0.287 0.296 0.306 0.315 0.325 0.335 0.344 0.354 0.363 0.373 0.383 0.392 0.412 0.431 0.451 0.471 0.490 0.510 0.529 0.549 0.569 0.588 0.608 0.627 0.647 0.667 0.686 0.706 0.725 0.745 0.758 0.771 0.784 0.797 0.810 0.824 0.837 0.850 0.863 0.876 0.889 0.902 0.907 0.912 0.917 0.922 0.926 0.931 0.936 0.941 0.946 0.951 0.956 0.961"/><feFuncB type="table" tableValues="0.980 0.979 0.977 0.975 0.974 0.972 0.971 0.969 0.967 0.966 0.964 0.962 0.961 0.959 0.957 0.955 0.954 0.952 0.950 0.948 0.947 0.945 0.943 0.941 0.939 0.938 0.936 0.934 0.932 0.930 0.929 0.927 0.925 0.923 0.922 0.919 0.916 0.914 0.911 0.908 0.906 0.903 0.900 0.898 0.895 0.892 0.889 0.887 0.884 0.881 0.879 0.876 0.873 0.871 0.868 0.865 0.863 0.860 0.858 0.856 0.854 0.851 0.849 0.847 0.844 0.842 0.840 0.837 0.835 0.833 0.830 0.828 0.826 0.824 0.821 0.819 0.817 0.814 0.812 0.810 0.807 0.805 0.803 0.800 0.798 0.796 0.794 0.791 0.789 0.787 0.784 0.728 0.672 0.616 0.560 0.504 0.448 0.392 0.347 0.303 0.258 0.213 0.168 0.123 0.078 0.078 0.078 0.078 0.078 0.078 0.078 0.078 0.078 0.079 0.080 0.081 0.082 0.083 0.083 0.084 0.085 0.086 0.087 0.088 0.089 0.089 0.090 0.091 0.092 0.093 0.094 0.094 0.095 0.096 0.097 0.098 0.099 0.099 0.100 0.101 0.102 0.104 0.106 0.108 0.111 0.113 0.115 0.117 0.119 0.122 0.124 0.126 0.128 0.130 0.132 0.135 0.137 0.139 0.141 0.149 0.156 0.163 0.171 0.178 0.186 0.193 0.200 0.208 0.215 0.223 0.230 0.237 0.245 0.252 0.260 0.267 0.275 0.284 0.294 0.304 0.314 0.324 0.333 0.343 0.353 0.363 0.373 0.382 0.392 0.402 0.412 0.422 0.431 0.441 0.451 0.461 0.471 0.480 0.490 0.500 0.510"/></feComponentTransfer>
</filter>
<clipPath id="c6"><path d="M24.1,1.7 C25.5,1.4 26.2,2.3 31.0,2.5 C35.8,2.7 55.2,3.7 60.2,3.4 C65.2,3.1 66.7,0.0 68.8,0.0 C70.9,0.0 73.9,1.3 75.7,3.4 C77.5,5.5 80.5,12.1 82.6,15.5 C84.7,18.9 89.4,25.5 91.2,29.2 C93.0,32.9 95.5,38.9 96.4,43.0 C97.3,47.1 97.1,56.9 98.1,60.2 C99.1,63.5 104.3,66.9 104.1,68.0 C103.9,69.1 98.3,67.8 96.4,68.8 C94.5,69.8 90.6,72.9 89.5,75.7 C88.4,78.5 88.7,86.3 87.8,89.5 C86.9,92.7 86.0,97.5 82.6,99.8 C79.2,102.1 65.2,104.9 62.0,106.7 C58.8,108.5 61.7,112.9 58.5,113.6 C55.3,114.3 41.3,113.7 37.9,111.9 C34.5,110.1 36.2,102.8 32.7,99.8 C29.2,96.8 15.4,92.9 12.0,89.5 C8.6,86.1 8.5,77.7 6.9,74.0 C5.3,70.3 0.5,64.9 0.0,61.9 C-0.5,58.9 1.6,53.9 3.4,51.6 C5.2,49.3 12.6,47.9 13.7,44.7 C14.8,41.5 12.7,31.2 12.0,27.5 C11.3,23.8 7.9,19.5 8.6,17.2 C9.3,14.9 15.6,11.9 17.2,10.3 C18.8,8.7 19.7,6.2 20.6,5.1 C21.5,4.0 22.7,2.0 24.1,1.7Z" transform="translate(514.9,181.6) scale(0.9798,0.9859)"/></clipPath>
<filter id="f6" filterUnits="userSpaceOnUse" x="511.9" y="178.6" width="108" height="118" color-interpolation-filters="sRGB">
<feGaussianBlur in="SourceGraphic" stdDeviation="2.5" result="b"/>
<feTurbulence type="fractalNoise" baseFrequency="0.07" numOctaves="2" seed="73" result="t1"/>
<feColorMatrix in="t1" type="matrix" values="1 0 0 0 0 1 0 0 0 0 1 0 0 0 0 0 0 0 0 1" result="n1"/>
<feTurbulence type="fractalNoise" baseFrequency="0.16" numOctaves="2" seed="23" result="t2"/>
<feColorMatrix in="t2" type="matrix" values="0 1 0 0 0 0 1 0 0 0 0 1 0 0 0 0 0 0 0 1" result="n2"/>
<feComposite in="n1" in2="n2" operator="arithmetic" k1="0" k2="0.7" k3="0.45" k4="-0.075" result="m"/>
<feComposite in="m" in2="b" operator="arithmetic" k1="0" k2="1" k3="1" k4="-0.5"/>
<feComponentTransfer><feFuncR type="table" tableValues="0.510 0.497 0.484 0.471 0.458 0.444 0.431 0.418 0.405 0.392 0.379 0.366 0.353 0.343 0.333 0.324 0.314 0.304 0.294 0.284 0.275 0.265 0.255 0.245 0.235 0.225 0.216 0.206 0.196 0.186 0.176 0.167 0.157 0.147 0.137 0.135 0.133 0.130 0.128 0.126 0.123 0.121 0.119 0.116 0.114 0.112 0.109 0.107 0.105 0.102 0.100 0.098 0.096 0.093 0.091 0.089 0.086 0.085 0.085 0.084 0.083 0.082 0.081 0.081 0.080 0.079 0.078 0.077 0.077 0.076 0.075 0.074 0.073 0.073 0.072 0.071 0.070 0.069 0.069 0.068 0.067 0.066 0.065 0.064 0.064 0.063 0.062 0.061 0.060 0.060 0.059 0.073 0.087 0.101 0.115 0.129 0.143 0.157 0.213 0.269 0.325 0.381 0.437 0.493 0.549 0.568 0.586 0.605 0.624 0.642 0.661 0.679 0.698 0.702 0.706 0.709 0.713 0.717 0.721 0.725 0.728 0.732 0.736 0.740 0.743 0.747 0.751 0.755 0.759 0.762 0.766 0.770 0.774 0.777 0.781 0.785 0.789 0.793 0.796 0.800 0.804 0.809 0.814 0.819 0.824 0.829 0.834 0.839 0.844 0.849 0.854 0.859 0.864 0.869 0.874 0.879 0.884 0.889 0.894 0.898 0.902 0.905 0.909 0.913 0.916 0.920 0.924 0.927 0.931 0.935 0.939 0.942 0.946 0.950 0.953 0.957 0.961 0.962 0.964 0.966 0.967 0.969 0.971 0.972 0.974 0.975 0.977 0.979 0.980 0.982 0.984 0.985 0.987 0.989 0.990 0.992 0.993 0.995 0.997 0.998 1.000"/><feFuncG type="table" tableValues="0.922 0.910 0.899 0.887 0.876 0.864 0.853 0.842 0.830 0.819 0.807 0.796 0.784 0.766 0.749 0.731 0.713 0.695 0.677 0.660 0.642 0.624 0.606 0.588 0.570 0.553 0.535 0.517 0.499 0.481 0.463 0.446 0.428 0.410 0.392 0.385 0.377 0.370 0.362 0.355 0.347 0.340 0.332 0.325 0.317 0.310 0.302 0.295 0.287 0.280 0.272 0.265 0.257 0.250 0.242 0.235 0.227 0.225 0.223 0.221 0.219 0.217 0.215 0.213 0.211 0.209 0.207 0.205 0.203 0.200 0.198 0.196 0.194 0.192 0.190 0.188 0.186 0.184 0.182 0.180 0.178 0.176 0.173 0.171 0.169 0.167 0.165 0.163 0.161 0.159 0.157 0.148 0.140 0.132 0.123 0.115 0.106 0.098 0.100 0.101 0.103 0.105 0.106 0.108 0.110 0.115 0.120 0.125 0.129 0.134 0.139 0.144 0.149 0.152 0.154 0.157 0.159 0.162 0.164 0.167 0.169 0.172 0.174 0.177 0.179 0.182 0.184 0.187 0.189 0.192 0.194 0.197 0.199 0.202 0.204 0.207 0.210 0.212 0.215 0.217 0.220 0.229 0.239 0.248 0.258 0.268 0.277 0.287 0.296 0.306 0.315 0.325 0.335 0.344 0.354 0.363 0.373 0.383 0.392 0.412 0.431 0.451 0.471 0.490 0.510 0.529 0.549 0.569 0.588 0.608 0.627 0.647 0.667 0.686 0.706 0.725 0.745 0.758 0.771 0.784 0.797 0.810 0.824 0.837 0.850 0.863 0.876 0.889 0.902 0.907 0.912 0.917 0.922 0.926 0.931 0.936 0.941 0.946 0.951 0.956 0.961"/><feFuncB type="table" tableValues="0.980 0.979 0.977 0.975 0.974 0.972 0.971 0.969 0.967 0.966 0.964 0.962 0.961 0.959 0.957 0.955 0.954 0.952 0.950 0.948 0.947 0.945 0.943 0.941 0.939 0.938 0.936 0.934 0.932 0.930 0.929 0.927 0.925 0.923 0.922 0.919 0.916 0.914 0.911 0.908 0.906 0.903 0.900 0.898 0.895 0.892 0.889 0.887 0.884 0.881 0.879 0.876 0.873 0.871 0.868 0.865 0.863 0.860 0.858 0.856 0.854 0.851 0.849 0.847 0.844 0.842 0.840 0.837 0.835 0.833 0.830 0.828 0.826 0.824 0.821 0.819 0.817 0.814 0.812 0.810 0.807 0.805 0.803 0.800 0.798 0.796 0.794 0.791 0.789 0.787 0.784 0.728 0.672 0.616 0.560 0.504 0.448 0.392 0.347 0.303 0.258 0.213 0.168 0.123 0.078 0.078 0.078 0.078 0.078 0.078 0.078 0.078 0.078 0.079 0.080 0.081 0.082 0.083 0.083 0.084 0.085 0.086 0.087 0.088 0.089 0.089 0.090 0.091 0.092 0.093 0.094 0.094 0.095 0.096 0.097 0.098 0.099 0.099 0.100 0.101 0.102 0.104 0.106 0.108 0.111 0.113 0.115 0.117 0.119 0.122 0.124 0.126 0.128 0.130 0.132 0.135 0.137 0.139 0.141 0.149 0.156 0.163 0.171 0.178 0.186 0.193 0.200 0.208 0.215 0.223 0.230 0.237 0.245 0.252 0.260 0.267 0.275 0.284 0.294 0.304 0.314 0.324 0.333 0.343 0.353 0.363 0.373 0.382 0.392 0.402 0.412 0.422 0.431 0.441 0.451 0.461 0.471 0.480 0.490 0.500 0.510"/></feComponentTransfer>
</filter>
<g id="bigtex"><rect x="80" y="390" width="215" height="150" fill="rgb(163,163,163)"/><path d="M90.8,487.6 C90.1,486.2 89.4,478.9 89.8,476.0 C90.2,473.1 93.0,462.3 94.6,458.6 C96.2,454.9 103.3,442.7 106.2,439.4 C109.1,436.1 119.9,428.2 123.6,425.9 C127.3,423.6 140.2,417.2 142.9,416.2 C145.6,415.2 149.6,415.2 150.6,416.2 C151.6,417.2 153.3,424.2 152.5,425.9 C151.7,427.6 143.5,432.2 142.9,433.6 C142.3,435.0 145.3,438.6 146.8,439.4 C148.3,440.2 157.0,440.0 158.3,441.3 C159.7,442.6 160.1,450.3 160.3,452.8 C160.5,455.3 162.0,464.7 160.3,466.3 C158.6,467.9 146.2,468.7 142.9,469.2 C139.6,469.7 130.4,470.5 127.5,471.2 C124.6,471.9 116.2,474.9 113.9,476.0 C111.6,477.1 106.0,480.4 104.3,481.8 C102.6,483.2 97.9,488.9 96.6,489.5 C95.2,490.1 91.5,489.0 90.8,487.6Z" fill="rgb(84,84,84)"/><path d="M127.5,487.6 C127.9,486.2 133.1,481.8 135.2,480.8 C137.3,479.8 145.6,478.4 148.7,477.9 C151.8,477.4 163.5,475.6 166.0,476.0 C168.5,476.4 173.2,480.3 173.8,481.8 C174.4,483.3 171.0,490.0 171.8,491.4 C172.6,492.8 179.8,495.1 181.5,495.3 C183.2,495.5 187.8,492.9 189.2,493.3 C190.5,493.7 195.4,497.4 195.0,499.1 C194.6,500.8 187.4,509.3 185.3,510.7 C183.2,512.0 176.1,512.6 173.8,512.6 C171.5,512.6 163.8,511.5 162.2,510.7 C160.6,509.9 159.7,505.7 158.3,504.9 C157.0,504.1 150.6,503.6 148.7,503.0 C146.8,502.4 140.7,499.9 139.0,499.1 C137.3,498.3 132.5,496.4 131.3,495.3 C130.2,494.2 127.1,489.1 127.5,487.6Z" fill="rgb(84,84,84)"/><path d="M185.0,434.5 C186.2,432.7 194.1,433.0 196.6,432.6 C199.1,432.2 206.8,431.2 210.1,430.7 C213.4,430.2 226.3,428.5 229.4,427.8 C232.5,427.1 239.3,424.1 241.0,423.9 C242.7,423.7 245.5,424.5 246.8,425.9 C248.2,427.2 253.0,434.7 254.5,437.4 C256.0,440.1 260.7,449.7 262.2,452.8 C263.7,455.9 268.4,465.4 269.9,468.3 C271.4,471.2 276.8,479.1 277.6,481.8 C278.4,484.5 279.1,493.2 277.6,495.3 C276.1,497.4 265.1,501.6 262.2,503.0 C259.3,504.4 250.0,509.6 248.7,508.8 C247.3,508.0 248.3,497.8 248.7,495.3 C249.1,492.8 251.5,486.0 252.5,483.7 C253.5,481.4 258.1,474.6 258.3,472.1 C258.5,469.6 255.5,461.3 254.5,458.6 C253.5,455.9 250.2,446.9 248.7,445.1 C247.1,443.3 240.7,439.7 239.0,440.3 C237.3,440.9 232.8,448.7 231.3,450.9 C229.8,453.1 225.3,461.7 223.6,462.5 C221.9,463.3 216.2,459.6 213.9,458.6 C211.6,457.6 203.3,453.6 200.4,452.8 C197.5,452.0 186.5,452.7 185.0,450.9 C183.5,449.1 183.8,436.3 185.0,434.5Z" fill="rgb(84,84,84)"/><path d="M185.3,412.4 C186.8,410.5 198.2,406.8 200.7,406.6 C203.2,406.4 209.9,409.2 210.3,410.4 C210.7,411.5 206.3,416.7 204.6,418.1 C202.9,419.5 194.9,424.0 193.0,424.8 C191.1,425.6 186.8,427.2 186.0,426.0 C185.2,424.8 183.8,414.3 185.3,412.4Z" fill="rgb(84,84,84)"/><path d="M214.0,404.0 C214.3,403.1 220.8,401.7 222.0,402.0 C223.2,402.3 226.3,406.1 226.0,407.0 C225.7,407.9 220.2,411.3 219.0,411.0 C217.8,410.7 213.7,404.9 214.0,404.0Z" fill="rgb(84,84,84)"/><path d="M218.0,418.0 C218.2,417.2 227.8,414.6 230.0,414.0 C232.2,413.4 238.4,411.8 240.0,412.0 C241.6,412.2 246.0,415.2 246.0,416.0 C246.0,416.8 241.8,419.4 240.0,420.0 C238.2,420.6 230.2,422.2 228.0,422.0 C225.8,421.8 217.8,418.8 218.0,418.0Z" fill="rgb(84,84,84)"/><path d="M180.0,432.0 C181.1,431.4 188.8,432.7 190.0,434.0 C191.2,435.3 192.6,443.7 192.0,445.0 C191.4,446.3 185.3,447.5 184.0,447.0 C182.7,446.5 179.4,441.5 179.0,440.0 C178.6,438.5 178.9,432.6 180.0,432.0Z" fill="rgb(84,84,84)"/><path d="M185.0,472.1 C185.8,470.6 194.3,470.0 196.6,470.2 C198.9,470.4 206.8,472.9 208.2,474.1 C209.5,475.3 210.9,480.7 210.1,481.8 C209.3,482.9 202.5,485.2 200.4,485.6 C198.3,486.0 190.4,487.0 188.9,485.6 C187.4,484.2 184.2,473.6 185.0,472.1Z" fill="rgb(84,84,84)"/><path d="M212.0,479.8 C213.2,478.6 221.3,476.0 223.6,476.0 C225.9,476.0 234.2,478.4 235.2,479.8 C236.2,481.2 234.8,488.3 233.2,489.5 C231.6,490.7 221.8,491.6 219.7,491.4 C217.6,491.2 212.8,488.8 212.0,487.6 C211.2,486.4 210.8,481.0 212.0,479.8Z" fill="rgb(84,84,84)"/><path d="M212.0,522.0 C211.7,519.8 219.4,497.7 222.0,494.0 C224.6,490.3 235.7,486.7 238.0,485.0 C240.3,483.3 243.6,477.1 245.0,477.0 C246.4,476.9 251.4,481.7 252.0,484.0 C252.6,486.3 252.2,497.6 251.0,500.0 C249.8,502.4 242.6,506.4 240.0,508.0 C237.4,509.6 227.8,514.6 225.0,516.0 C222.2,517.4 212.3,524.2 212.0,522.0Z" fill="rgb(84,84,84)"/><ellipse cx="121" cy="487" rx="12" ry="6" fill="rgb(194,194,194)"/><ellipse cx="114" cy="490" rx="5" ry="3" fill="rgb(209,209,209)"/><ellipse cx="178.5" cy="443" rx="4" ry="12" fill="rgb(189,189,189)"/><ellipse cx="242.9" cy="460.6" rx="8" ry="10" fill="rgb(194,194,194)"/><ellipse cx="243" cy="462" rx="3" ry="4" fill="rgb(204,204,204)"/><ellipse cx="125.5" cy="454.8" rx="10" ry="5" fill="rgb(56,56,56)"/><ellipse cx="126" cy="455" rx="4" ry="2.5" fill="rgb(36,36,36)"/><ellipse cx="104" cy="505" rx="5" ry="3" fill="rgb(61,61,61)"/><path d="M213.9,435.5 C225,432 242,436 250.6,441.3 C255,446 258,450 260.3,454.8" fill="none" stroke="rgb(31,31,31)" stroke-width="3"/></g>
<filter id="bigf" filterUnits="userSpaceOnUse" x="80" y="390" width="215" height="150" color-interpolation-filters="sRGB">
<feGaussianBlur in="SourceGraphic" stdDeviation="2" result="b"/>
<feTurbulence type="fractalNoise" baseFrequency="0.09" numOctaves="2" seed="7" result="t"/>
<feColorMatrix in="t" type="matrix" values="1 0 0 0 0 1 0 0 0 0 1 0 0 0 0 0 0 0 0 1" result="n"/>
<feComposite in="n" in2="b" operator="arithmetic" k1="0" k2="0.5" k3="1" k4="-0.25"/>
<feComponentTransfer><feFuncR type="table" tableValues="0.510 0.497 0.484 0.471 0.458 0.444 0.431 0.418 0.405 0.392 0.379 0.366 0.353 0.343 0.333 0.324 0.314 0.304 0.294 0.284 0.275 0.265 0.255 0.245 0.235 0.225 0.216 0.206 0.196 0.186 0.176 0.167 0.157 0.147 0.137 0.135 0.133 0.130 0.128 0.126 0.123 0.121 0.119 0.116 0.114 0.112 0.109 0.107 0.105 0.102 0.100 0.098 0.096 0.093 0.091 0.089 0.086 0.085 0.085 0.084 0.083 0.082 0.081 0.081 0.080 0.079 0.078 0.077 0.077 0.076 0.075 0.074 0.073 0.073 0.072 0.071 0.070 0.069 0.069 0.068 0.067 0.066 0.065 0.064 0.064 0.063 0.062 0.061 0.060 0.060 0.059 0.073 0.087 0.101 0.115 0.129 0.143 0.157 0.213 0.269 0.325 0.381 0.437 0.493 0.549 0.568 0.586 0.605 0.624 0.642 0.661 0.679 0.698 0.702 0.706 0.709 0.713 0.717 0.721 0.725 0.728 0.732 0.736 0.740 0.743 0.747 0.751 0.755 0.759 0.762 0.766 0.770 0.774 0.777 0.781 0.785 0.789 0.793 0.796 0.800 0.804 0.809 0.814 0.819 0.824 0.829 0.834 0.839 0.844 0.849 0.854 0.859 0.864 0.869 0.874 0.879 0.884 0.889 0.894 0.898 0.902 0.905 0.909 0.913 0.916 0.920 0.924 0.927 0.931 0.935 0.939 0.942 0.946 0.950 0.953 0.957 0.961 0.962 0.964 0.966 0.967 0.969 0.971 0.972 0.974 0.975 0.977 0.979 0.980 0.982 0.984 0.985 0.987 0.989 0.990 0.992 0.993 0.995 0.997 0.998 1.000"/><feFuncG type="table" tableValues="0.922 0.910 0.899 0.887 0.876 0.864 0.853 0.842 0.830 0.819 0.807 0.796 0.784 0.766 0.749 0.731 0.713 0.695 0.677 0.660 0.642 0.624 0.606 0.588 0.570 0.553 0.535 0.517 0.499 0.481 0.463 0.446 0.428 0.410 0.392 0.385 0.377 0.370 0.362 0.355 0.347 0.340 0.332 0.325 0.317 0.310 0.302 0.295 0.287 0.280 0.272 0.265 0.257 0.250 0.242 0.235 0.227 0.225 0.223 0.221 0.219 0.217 0.215 0.213 0.211 0.209 0.207 0.205 0.203 0.200 0.198 0.196 0.194 0.192 0.190 0.188 0.186 0.184 0.182 0.180 0.178 0.176 0.173 0.171 0.169 0.167 0.165 0.163 0.161 0.159 0.157 0.148 0.140 0.132 0.123 0.115 0.106 0.098 0.100 0.101 0.103 0.105 0.106 0.108 0.110 0.115 0.120 0.125 0.129 0.134 0.139 0.144 0.149 0.152 0.154 0.157 0.159 0.162 0.164 0.167 0.169 0.172 0.174 0.177 0.179 0.182 0.184 0.187 0.189 0.192 0.194 0.197 0.199 0.202 0.204 0.207 0.210 0.212 0.215 0.217 0.220 0.229 0.239 0.248 0.258 0.268 0.277 0.287 0.296 0.306 0.315 0.325 0.335 0.344 0.354 0.363 0.373 0.383 0.392 0.412 0.431 0.451 0.471 0.490 0.510 0.529 0.549 0.569 0.588 0.608 0.627 0.647 0.667 0.686 0.706 0.725 0.745 0.758 0.771 0.784 0.797 0.810 0.824 0.837 0.850 0.863 0.876 0.889 0.902 0.907 0.912 0.917 0.922 0.926 0.931 0.936 0.941 0.946 0.951 0.956 0.961"/><feFuncB type="table" tableValues="0.980 0.979 0.977 0.975 0.974 0.972 0.971 0.969 0.967 0.966 0.964 0.962 0.961 0.959 0.957 0.955 0.954 0.952 0.950 0.948 0.947 0.945 0.943 0.941 0.939 0.938 0.936 0.934 0.932 0.930 0.929 0.927 0.925 0.923 0.922 0.919 0.916 0.914 0.911 0.908 0.906 0.903 0.900 0.898 0.895 0.892 0.889 0.887 0.884 0.881 0.879 0.876 0.873 0.871 0.868 0.865 0.863 0.860 0.858 0.856 0.854 0.851 0.849 0.847 0.844 0.842 0.840 0.837 0.835 0.833 0.830 0.828 0.826 0.824 0.821 0.819 0.817 0.814 0.812 0.810 0.807 0.805 0.803 0.800 0.798 0.796 0.794 0.791 0.789 0.787 0.784 0.728 0.672 0.616 0.560 0.504 0.448 0.392 0.347 0.303 0.258 0.213 0.168 0.123 0.078 0.078 0.078 0.078 0.078 0.078 0.078 0.078 0.078 0.079 0.080 0.081 0.082 0.083 0.083 0.084 0.085 0.086 0.087 0.088 0.089 0.089 0.090 0.091 0.092 0.093 0.094 0.094 0.095 0.096 0.097 0.098 0.099 0.099 0.100 0.101 0.102 0.104 0.106 0.108 0.111 0.113 0.115 0.117 0.119 0.122 0.124 0.126 0.128 0.130 0.132 0.135 0.137 0.139 0.141 0.149 0.156 0.163 0.171 0.178 0.186 0.193 0.200 0.208 0.215 0.223 0.230 0.237 0.245 0.252 0.260 0.267 0.275 0.284 0.294 0.304 0.314 0.324 0.333 0.343 0.353 0.363 0.373 0.382 0.392 0.402 0.412 0.422 0.431 0.441 0.451 0.461 0.471 0.480 0.490 0.500 0.510"/></feComponentTransfer>
</filter>
<clipPath id="c7"><path d="M0.6,77.0 C0.5,73.3 0.6,71.6 1.9,68.0 C3.1,64.4 5.3,59.9 8.1,55.6 C10.8,51.3 14.4,46.5 18.4,42.2 C22.3,37.9 27.0,33.8 31.8,29.8 C36.6,25.8 41.3,22.0 47.3,18.4 C53.3,14.8 61.1,10.7 68.0,8.1 C74.9,5.5 82.4,4.1 88.7,2.9 C95.0,1.7 99.9,1.3 105.7,0.9 C111.5,0.5 117.9,-0.1 123.4,0.5 C128.9,1.1 134.1,2.4 138.6,4.3 C143.1,6.2 146.9,8.9 150.7,11.9 C154.5,14.9 157.8,18.2 161.3,22.5 C164.8,26.8 168.4,32.7 171.9,37.7 C175.4,42.8 179.2,47.8 182.5,52.8 C185.8,57.8 189.3,63.5 191.6,68.0 C193.9,72.5 195.5,76.8 196.2,80.1 C196.9,83.3 196.8,85.2 195.8,87.5 C194.9,89.8 193.0,92.2 190.5,94.0 C188.0,95.8 184.0,97.1 180.7,98.2 C177.4,99.3 174.0,99.9 170.7,100.7 C167.4,101.5 165.4,101.2 160.7,103.2 C156.0,105.2 149.8,109.8 142.7,113.0 C135.6,116.2 126.4,119.7 118.2,122.7 C110.0,125.7 100.5,129.1 93.7,130.9 C86.9,132.7 80.7,133.4 77.3,133.4 C73.9,133.4 74.9,132.4 73.3,130.9 C71.7,129.4 69.3,126.7 67.5,124.4 C65.7,122.1 64.6,118.9 62.7,117.0 C60.8,115.1 60.2,114.2 56.1,113.0 C52.0,111.8 44.2,110.8 38.2,109.7 C32.2,108.6 25.1,108.0 20.2,106.4 C15.3,104.8 11.8,102.6 8.8,99.9 C5.8,97.2 3.6,93.9 2.2,90.1 C0.8,86.3 0.7,80.7 0.6,77.0Z" transform="translate(89.3,399.3) scale(1.0000,1.0000)"/></clipPath>
<clipPath id="c8"><path d="M24.1,1.7 C25.5,1.4 26.2,2.3 31.0,2.5 C35.8,2.7 55.2,3.7 60.2,3.4 C65.2,3.1 66.7,0.0 68.8,0.0 C70.9,0.0 73.9,1.3 75.7,3.4 C77.5,5.5 80.5,12.1 82.6,15.5 C84.7,18.9 89.4,25.5 91.2,29.2 C93.0,32.9 95.5,38.9 96.4,43.0 C97.3,47.1 97.1,56.9 98.1,60.2 C99.1,63.5 104.3,66.9 104.1,68.0 C103.9,69.1 98.3,67.8 96.4,68.8 C94.5,69.8 90.6,72.9 89.5,75.7 C88.4,78.5 88.7,86.3 87.8,89.5 C86.9,92.7 86.0,97.5 82.6,99.8 C79.2,102.1 65.2,104.9 62.0,106.7 C58.8,108.5 61.7,112.9 58.5,113.6 C55.3,114.3 41.3,113.7 37.9,111.9 C34.5,110.1 36.2,102.8 32.7,99.8 C29.2,96.8 15.4,92.9 12.0,89.5 C8.6,86.1 8.5,77.7 6.9,74.0 C5.3,70.3 0.5,64.9 0.0,61.9 C-0.5,58.9 1.6,53.9 3.4,51.6 C5.2,49.3 12.6,47.9 13.7,44.7 C14.8,41.5 12.7,31.2 12.0,27.5 C11.3,23.8 7.9,19.5 8.6,17.2 C9.3,14.9 15.6,11.9 17.2,10.3 C18.8,8.7 19.7,6.2 20.6,5.1 C21.5,4.0 22.7,2.0 24.1,1.7Z" transform="translate(748.8,390.2) scale(1.0000,1.0000)"/></clipPath>
<filter id="f8" filterUnits="userSpaceOnUse" x="745.8" y="387.2" width="110.1" height="119.6" color-interpolation-filters="sRGB">
<feGaussianBlur in="SourceGraphic" stdDeviation="2.5" result="b"/>
<feTurbulence type="fractalNoise" baseFrequency="0.07" numOctaves="2" seed="82" result="t1"/>
<feColorMatrix in="t1" type="matrix" values="1 0 0 0 0 1 0 0 0 0 1 0 0 0 0 0 0 0 0 1" result="n1"/>
<feTurbulence type="fractalNoise" baseFrequency="0.16" numOctaves="2" seed="32" result="t2"/>
<feColorMatrix in="t2" type="matrix" values="0 1 0 0 0 0 1 0 0 0 0 1 0 0 0 0 0 0 0 1" result="n2"/>
<feComposite in="n1" in2="n2" operator="arithmetic" k1="0" k2="0.7" k3="0.45" k4="-0.075" result="m"/>
<feComposite in="m" in2="b" operator="arithmetic" k1="0" k2="1" k3="1" k4="-0.5"/>
<feComponentTransfer><feFuncR type="table" tableValues="0.510 0.497 0.484 0.471 0.458 0.444 0.431 0.418 0.405 0.392 0.379 0.366 0.353 0.343 0.333 0.324 0.314 0.304 0.294 0.284 0.275 0.265 0.255 0.245 0.235 0.225 0.216 0.206 0.196 0.186 0.176 0.167 0.157 0.147 0.137 0.135 0.133 0.130 0.128 0.126 0.123 0.121 0.119 0.116 0.114 0.112 0.109 0.107 0.105 0.102 0.100 0.098 0.096 0.093 0.091 0.089 0.086 0.085 0.085 0.084 0.083 0.082 0.081 0.081 0.080 0.079 0.078 0.077 0.077 0.076 0.075 0.074 0.073 0.073 0.072 0.071 0.070 0.069 0.069 0.068 0.067 0.066 0.065 0.064 0.064 0.063 0.062 0.061 0.060 0.060 0.059 0.073 0.087 0.101 0.115 0.129 0.143 0.157 0.213 0.269 0.325 0.381 0.437 0.493 0.549 0.568 0.586 0.605 0.624 0.642 0.661 0.679 0.698 0.702 0.706 0.709 0.713 0.717 0.721 0.725 0.728 0.732 0.736 0.740 0.743 0.747 0.751 0.755 0.759 0.762 0.766 0.770 0.774 0.777 0.781 0.785 0.789 0.793 0.796 0.800 0.804 0.809 0.814 0.819 0.824 0.829 0.834 0.839 0.844 0.849 0.854 0.859 0.864 0.869 0.874 0.879 0.884 0.889 0.894 0.898 0.902 0.905 0.909 0.913 0.916 0.920 0.924 0.927 0.931 0.935 0.939 0.942 0.946 0.950 0.953 0.957 0.961 0.962 0.964 0.966 0.967 0.969 0.971 0.972 0.974 0.975 0.977 0.979 0.980 0.982 0.984 0.985 0.987 0.989 0.990 0.992 0.993 0.995 0.997 0.998 1.000"/><feFuncG type="table" tableValues="0.922 0.910 0.899 0.887 0.876 0.864 0.853 0.842 0.830 0.819 0.807 0.796 0.784 0.766 0.749 0.731 0.713 0.695 0.677 0.660 0.642 0.624 0.606 0.588 0.570 0.553 0.535 0.517 0.499 0.481 0.463 0.446 0.428 0.410 0.392 0.385 0.377 0.370 0.362 0.355 0.347 0.340 0.332 0.325 0.317 0.310 0.302 0.295 0.287 0.280 0.272 0.265 0.257 0.250 0.242 0.235 0.227 0.225 0.223 0.221 0.219 0.217 0.215 0.213 0.211 0.209 0.207 0.205 0.203 0.200 0.198 0.196 0.194 0.192 0.190 0.188 0.186 0.184 0.182 0.180 0.178 0.176 0.173 0.171 0.169 0.167 0.165 0.163 0.161 0.159 0.157 0.148 0.140 0.132 0.123 0.115 0.106 0.098 0.100 0.101 0.103 0.105 0.106 0.108 0.110 0.115 0.120 0.125 0.129 0.134 0.139 0.144 0.149 0.152 0.154 0.157 0.159 0.162 0.164 0.167 0.169 0.172 0.174 0.177 0.179 0.182 0.184 0.187 0.189 0.192 0.194 0.197 0.199 0.202 0.204 0.207 0.210 0.212 0.215 0.217 0.220 0.229 0.239 0.248 0.258 0.268 0.277 0.287 0.296 0.306 0.315 0.325 0.335 0.344 0.354 0.363 0.373 0.383 0.392 0.412 0.431 0.451 0.471 0.490 0.510 0.529 0.549 0.569 0.588 0.608 0.627 0.647 0.667 0.686 0.706 0.725 0.745 0.758 0.771 0.784 0.797 0.810 0.824 0.837 0.850 0.863 0.876 0.889 0.902 0.907 0.912 0.917 0.922 0.926 0.931 0.936 0.941 0.946 0.951 0.956 0.961"/><feFuncB type="table" tableValues="0.980 0.979 0.977 0.975 0.974 0.972 0.971 0.969 0.967 0.966 0.964 0.962 0.961 0.959 0.957 0.955 0.954 0.952 0.950 0.948 0.947 0.945 0.943 0.941 0.939 0.938 0.936 0.934 0.932 0.930 0.929 0.927 0.925 0.923 0.922 0.919 0.916 0.914 0.911 0.908 0.906 0.903 0.900 0.898 0.895 0.892 0.889 0.887 0.884 0.881 0.879 0.876 0.873 0.871 0.868 0.865 0.863 0.860 0.858 0.856 0.854 0.851 0.849 0.847 0.844 0.842 0.840 0.837 0.835 0.833 0.830 0.828 0.826 0.824 0.821 0.819 0.817 0.814 0.812 0.810 0.807 0.805 0.803 0.800 0.798 0.796 0.794 0.791 0.789 0.787 0.784 0.728 0.672 0.616 0.560 0.504 0.448 0.392 0.347 0.303 0.258 0.213 0.168 0.123 0.078 0.078 0.078 0.078 0.078 0.078 0.078 0.078 0.078 0.079 0.080 0.081 0.082 0.083 0.083 0.084 0.085 0.086 0.087 0.088 0.089 0.089 0.090 0.091 0.092 0.093 0.094 0.094 0.095 0.096 0.097 0.098 0.099 0.099 0.100 0.101 0.102 0.104 0.106 0.108 0.111 0.113 0.115 0.117 0.119 0.122 0.124 0.126 0.128 0.130 0.132 0.135 0.137 0.139 0.141 0.149 0.156 0.163 0.171 0.178 0.186 0.193 0.200 0.208 0.215 0.223 0.230 0.237 0.245 0.252 0.260 0.267 0.275 0.284 0.294 0.304 0.314 0.324 0.333 0.343 0.353 0.363 0.373 0.382 0.392 0.402 0.412 0.422 0.431 0.441 0.451 0.461 0.471 0.480 0.490 0.500 0.510"/></feComponentTransfer>
</filter>
<clipPath id="c9"><path d="M24.1,1.7 C25.5,1.4 26.2,2.3 31.0,2.5 C35.8,2.7 55.2,3.7 60.2,3.4 C65.2,3.1 66.7,0.0 68.8,0.0 C70.9,0.0 73.9,1.3 75.7,3.4 C77.5,5.5 80.5,12.1 82.6,15.5 C84.7,18.9 89.4,25.5 91.2,29.2 C93.0,32.9 95.5,38.9 96.4,43.0 C97.3,47.1 97.1,56.9 98.1,60.2 C99.1,63.5 104.3,66.9 104.1,68.0 C103.9,69.1 98.3,67.8 96.4,68.8 C94.5,69.8 90.6,72.9 89.5,75.7 C88.4,78.5 88.7,86.3 87.8,89.5 C86.9,92.7 86.0,97.5 82.6,99.8 C79.2,102.1 65.2,104.9 62.0,106.7 C58.8,108.5 61.7,112.9 58.5,113.6 C55.3,114.3 41.3,113.7 37.9,111.9 C34.5,110.1 36.2,102.8 32.7,99.8 C29.2,96.8 15.4,92.9 12.0,89.5 C8.6,86.1 8.5,77.7 6.9,74.0 C5.3,70.3 0.5,64.9 0.0,61.9 C-0.5,58.9 1.6,53.9 3.4,51.6 C5.2,49.3 12.6,47.9 13.7,44.7 C14.8,41.5 12.7,31.2 12.0,27.5 C11.3,23.8 7.9,19.5 8.6,17.2 C9.3,14.9 15.6,11.9 17.2,10.3 C18.8,8.7 19.7,6.2 20.6,5.1 C21.5,4.0 22.7,2.0 24.1,1.7Z" transform="translate(520.8,523.4) scale(1.0269,1.0387)"/></clipPath>
<filter id="f9" filterUnits="userSpaceOnUse" x="517.8" y="520.4" width="112.9" height="124" color-interpolation-filters="sRGB">
<feGaussianBlur in="SourceGraphic" stdDeviation="2.5" result="b"/>
<feTurbulence type="fractalNoise" baseFrequency="0.07" numOctaves="2" seed="83" result="t1"/>
<feColorMatrix in="t1" type="matrix" values="1 0 0 0 0 1 0 0 0 0 1 0 0 0 0 0 0 0 0 1" result="n1"/>
<feTurbulence type="fractalNoise" baseFrequency="0.16" numOctaves="2" seed="33" result="t2"/>
<feColorMatrix in="t2" type="matrix" values="0 1 0 0 0 0 1 0 0 0 0 1 0 0 0 0 0 0 0 1" result="n2"/>
<feComposite in="n1" in2="n2" operator="arithmetic" k1="0" k2="0.7" k3="0.45" k4="-0.075" result="m"/>
<feComposite in="m" in2="b" operator="arithmetic" k1="0" k2="1" k3="1" k4="-0.5"/>
<feComponentTransfer><feFuncR type="table" tableValues="0.510 0.497 0.484 0.471 0.458 0.444 0.431 0.418 0.405 0.392 0.379 0.366 0.353 0.343 0.333 0.324 0.314 0.304 0.294 0.284 0.275 0.265 0.255 0.245 0.235 0.225 0.216 0.206 0.196 0.186 0.176 0.167 0.157 0.147 0.137 0.135 0.133 0.130 0.128 0.126 0.123 0.121 0.119 0.116 0.114 0.112 0.109 0.107 0.105 0.102 0.100 0.098 0.096 0.093 0.091 0.089 0.086 0.085 0.085 0.084 0.083 0.082 0.081 0.081 0.080 0.079 0.078 0.077 0.077 0.076 0.075 0.074 0.073 0.073 0.072 0.071 0.070 0.069 0.069 0.068 0.067 0.066 0.065 0.064 0.064 0.063 0.062 0.061 0.060 0.060 0.059 0.073 0.087 0.101 0.115 0.129 0.143 0.157 0.213 0.269 0.325 0.381 0.437 0.493 0.549 0.568 0.586 0.605 0.624 0.642 0.661 0.679 0.698 0.702 0.706 0.709 0.713 0.717 0.721 0.725 0.728 0.732 0.736 0.740 0.743 0.747 0.751 0.755 0.759 0.762 0.766 0.770 0.774 0.777 0.781 0.785 0.789 0.793 0.796 0.800 0.804 0.809 0.814 0.819 0.824 0.829 0.834 0.839 0.844 0.849 0.854 0.859 0.864 0.869 0.874 0.879 0.884 0.889 0.894 0.898 0.902 0.905 0.909 0.913 0.916 0.920 0.924 0.927 0.931 0.935 0.939 0.942 0.946 0.950 0.953 0.957 0.961 0.962 0.964 0.966 0.967 0.969 0.971 0.972 0.974 0.975 0.977 0.979 0.980 0.982 0.984 0.985 0.987 0.989 0.990 0.992 0.993 0.995 0.997 0.998 1.000"/><feFuncG type="table" tableValues="0.922 0.910 0.899 0.887 0.876 0.864 0.853 0.842 0.830 0.819 0.807 0.796 0.784 0.766 0.749 0.731 0.713 0.695 0.677 0.660 0.642 0.624 0.606 0.588 0.570 0.553 0.535 0.517 0.499 0.481 0.463 0.446 0.428 0.410 0.392 0.385 0.377 0.370 0.362 0.355 0.347 0.340 0.332 0.325 0.317 0.310 0.302 0.295 0.287 0.280 0.272 0.265 0.257 0.250 0.242 0.235 0.227 0.225 0.223 0.221 0.219 0.217 0.215 0.213 0.211 0.209 0.207 0.205 0.203 0.200 0.198 0.196 0.194 0.192 0.190 0.188 0.186 0.184 0.182 0.180 0.178 0.176 0.173 0.171 0.169 0.167 0.165 0.163 0.161 0.159 0.157 0.148 0.140 0.132 0.123 0.115 0.106 0.098 0.100 0.101 0.103 0.105 0.106 0.108 0.110 0.115 0.120 0.125 0.129 0.134 0.139 0.144 0.149 0.152 0.154 0.157 0.159 0.162 0.164 0.167 0.169 0.172 0.174 0.177 0.179 0.182 0.184 0.187 0.189 0.192 0.194 0.197 0.199 0.202 0.204 0.207 0.210 0.212 0.215 0.217 0.220 0.229 0.239 0.248 0.258 0.268 0.277 0.287 0.296 0.306 0.315 0.325 0.335 0.344 0.354 0.363 0.373 0.383 0.392 0.412 0.431 0.451 0.471 0.490 0.510 0.529 0.549 0.569 0.588 0.608 0.627 0.647 0.667 0.686 0.706 0.725 0.745 0.758 0.771 0.784 0.797 0.810 0.824 0.837 0.850 0.863 0.876 0.889 0.902 0.907 0.912 0.917 0.922 0.926 0.931 0.936 0.941 0.946 0.951 0.956 0.961"/><feFuncB type="table" tableValues="0.980 0.979 0.977 0.975 0.974 0.972 0.971 0.969 0.967 0.966 0.964 0.962 0.961 0.959 0.957 0.955 0.954 0.952 0.950 0.948 0.947 0.945 0.943 0.941 0.939 0.938 0.936 0.934 0.932 0.930 0.929 0.927 0.925 0.923 0.922 0.919 0.916 0.914 0.911 0.908 0.906 0.903 0.900 0.898 0.895 0.892 0.889 0.887 0.884 0.881 0.879 0.876 0.873 0.871 0.868 0.865 0.863 0.860 0.858 0.856 0.854 0.851 0.849 0.847 0.844 0.842 0.840 0.837 0.835 0.833 0.830 0.828 0.826 0.824 0.821 0.819 0.817 0.814 0.812 0.810 0.807 0.805 0.803 0.800 0.798 0.796 0.794 0.791 0.789 0.787 0.784 0.728 0.672 0.616 0.560 0.504 0.448 0.392 0.347 0.303 0.258 0.213 0.168 0.123 0.078 0.078 0.078 0.078 0.078 0.078 0.078 0.078 0.078 0.079 0.080 0.081 0.082 0.083 0.083 0.084 0.085 0.086 0.087 0.088 0.089 0.089 0.090 0.091 0.092 0.093 0.094 0.094 0.095 0.096 0.097 0.098 0.099 0.099 0.100 0.101 0.102 0.104 0.106 0.108 0.111 0.113 0.115 0.117 0.119 0.122 0.124 0.126 0.128 0.130 0.132 0.135 0.137 0.139 0.141 0.149 0.156 0.163 0.171 0.178 0.186 0.193 0.200 0.208 0.215 0.223 0.230 0.237 0.245 0.252 0.260 0.267 0.275 0.284 0.294 0.304 0.314 0.324 0.333 0.343 0.353 0.363 0.373 0.382 0.392 0.402 0.412 0.422 0.431 0.441 0.451 0.461 0.471 0.480 0.490 0.500 0.510"/></feComponentTransfer>
</filter>
<clipPath id="c10"><path d="M0.6,77.0 C0.5,73.3 0.6,71.6 1.9,68.0 C3.1,64.4 5.3,59.9 8.1,55.6 C10.8,51.3 14.4,46.5 18.4,42.2 C22.3,37.9 27.0,33.8 31.8,29.8 C36.6,25.8 41.3,22.0 47.3,18.4 C53.3,14.8 61.1,10.7 68.0,8.1 C74.9,5.5 82.4,4.1 88.7,2.9 C95.0,1.7 99.9,1.3 105.7,0.9 C111.5,0.5 117.9,-0.1 123.4,0.5 C128.9,1.1 134.1,2.4 138.6,4.3 C143.1,6.2 146.9,8.9 150.7,11.9 C154.5,14.9 157.8,18.2 161.3,22.5 C164.8,26.8 168.4,32.7 171.9,37.7 C175.4,42.8 179.2,47.8 182.5,52.8 C185.8,57.8 189.3,63.5 191.6,68.0 C193.9,72.5 195.5,76.8 196.2,80.1 C196.9,83.3 196.8,85.2 195.8,87.5 C194.9,89.8 193.0,92.2 190.5,94.0 C188.0,95.8 184.0,97.1 180.7,98.2 C177.4,99.3 174.0,99.9 170.7,100.7 C167.4,101.5 165.4,101.2 160.7,103.2 C156.0,105.2 149.8,109.8 142.7,113.0 C135.6,116.2 126.4,119.7 118.2,122.7 C110.0,125.7 100.5,129.1 93.7,130.9 C86.9,132.7 80.7,133.4 77.3,133.4 C73.9,133.4 74.9,132.4 73.3,130.9 C71.7,129.4 69.3,126.7 67.5,124.4 C65.7,122.1 64.6,118.9 62.7,117.0 C60.8,115.1 60.2,114.2 56.1,113.0 C52.0,111.8 44.2,110.8 38.2,109.7 C32.2,108.6 25.1,108.0 20.2,106.4 C15.3,104.8 11.8,102.6 8.8,99.9 C5.8,97.2 3.6,93.9 2.2,90.1 C0.8,86.3 0.7,80.7 0.6,77.0Z" transform="translate(1038,403) scale(0.9929,0.9760)"/></clipPath>
</defs>
<rect width="1286" height="726" fill="#fff"/>

<!-- part a arrows (time) -->
<circle cx="244.3" cy="197.1" r="1.25" fill="#000"/><circle cx="247.7" cy="194.1" r="1.25" fill="#000"/><circle cx="251.4" cy="191" r="1.25" fill="#000"/>
<circle cx="619.6" cy="207.6" r="1.25" fill="#000"/><circle cx="623.3" cy="204.6" r="1.25" fill="#000"/><circle cx="626.5" cy="201.4" r="1.25" fill="#000"/>
<line x1="218.7" y1="301.1" x2="397" y2="148.5" stroke="#000" stroke-width="1.2"/>
<path d="M405.7,140.6 L390.7,144.0 L399.5,154.9Z" fill="#000"/>
<line x1="602.4" y1="301.1" x2="781" y2="148.5" stroke="#000" stroke-width="1.2"/>
<path d="M789.4,140.6 L774.4,144.0 L783.2,154.9Z" fill="#000"/>

<text transform="translate(143,193) rotate(-40)" font-size="25.8" font-family="Liberation Sans" fill="#000" stroke="#000" stroke-width="0.35">BOLD images</text>
<text transform="translate(315,256) rotate(-40.5)" font-size="25.8" font-family="Liberation Sans" fill="#000" stroke="#000" stroke-width="0.35">time</text>
<text transform="translate(509.5,193) rotate(-40)" font-size="25.8" font-family="Liberation Sans" fill="#000" stroke="#000" stroke-width="0.35">BOLD Images</text>
<text transform="translate(699,256) rotate(-40.5)" font-size="25.8" font-family="Liberation Sans" fill="#000" stroke="#000" stroke-width="0.35">time</text>

<g clip-path="url(#c1)"><g filter="url(#f1)"><rect x="132.9" y="191.2" width="123.1" height="83.8" fill="rgb(153,153,153)"/><ellipse cx="157.5" cy="224.3" rx="12" ry="8" fill="rgb(82,82,82)"/><ellipse cx="192.8" cy="219" rx="14" ry="9" fill="rgb(82,82,82)"/><ellipse cx="185" cy="247.8" rx="16" ry="8" fill="rgb(82,82,82)"/><ellipse cx="213.8" cy="251.8" rx="12" ry="4" fill="rgb(82,82,82)"/><ellipse cx="226.9" cy="216.4" rx="8" ry="10" fill="rgb(82,82,82)"/><ellipse cx="140.5" cy="241.3" rx="6" ry="10" fill="rgb(82,82,82)"/><ellipse cx="221.6" cy="240" rx="8" ry="5" fill="rgb(204,204,204)"/><ellipse cx="158.8" cy="245.2" rx="5" ry="3" fill="rgb(199,199,199)"/><ellipse cx="199" cy="212" rx="4" ry="3" fill="rgb(71,71,71)"/></g><path d="M146,476 C160,470.5 178,467.5 195,467.8 C178,469.8 162,473.5 146,476Z" transform="translate(135.9,194.2) scale(0.5968,0.5841) translate(-89.3,-399.3)" fill="#000" fill-opacity="0.75" stroke="#000" stroke-opacity="0.3" stroke-width="1.68"/><path d="M0.6,77.0 C0.5,73.3 0.6,71.6 1.9,68.0 C3.1,64.4 5.3,59.9 8.1,55.6 C10.8,51.3 14.4,46.5 18.4,42.2 C22.3,37.9 27.0,33.8 31.8,29.8 C36.6,25.8 41.3,22.0 47.3,18.4 C53.3,14.8 61.1,10.7 68.0,8.1 C74.9,5.5 82.4,4.1 88.7,2.9 C95.0,1.7 99.9,1.3 105.7,0.9 C111.5,0.5 117.9,-0.1 123.4,0.5 C128.9,1.1 134.1,2.4 138.6,4.3 C143.1,6.2 146.9,8.9 150.7,11.9 C154.5,14.9 157.8,18.2 161.3,22.5 C164.8,26.8 168.4,32.7 171.9,37.7 C175.4,42.8 179.2,47.8 182.5,52.8 C185.8,57.8 189.3,63.5 191.6,68.0 C193.9,72.5 195.5,76.8 196.2,80.1 C196.9,83.3 196.8,85.2 195.8,87.5 C194.9,89.8 193.0,92.2 190.5,94.0 C188.0,95.8 184.0,97.1 180.7,98.2 C177.4,99.3 174.0,99.9 170.7,100.7 C167.4,101.5 165.4,101.2 160.7,103.2 C156.0,105.2 149.8,109.8 142.7,113.0 C135.6,116.2 126.4,119.7 118.2,122.7 C110.0,125.7 100.5,129.1 93.7,130.9 C86.9,132.7 80.7,133.4 77.3,133.4 C73.9,133.4 74.9,132.4 73.3,130.9 C71.7,129.4 69.3,126.7 67.5,124.4 C65.7,122.1 64.6,118.9 62.7,117.0 C60.8,115.1 60.2,114.2 56.1,113.0 C52.0,111.8 44.2,110.8 38.2,109.7 C32.2,108.6 25.1,108.0 20.2,106.4 C15.3,104.8 11.8,102.6 8.8,99.9 C5.8,97.2 3.6,93.9 2.2,90.1 C0.8,86.3 0.7,80.7 0.6,77.0Z" transform="translate(135.9,194.2) scale(0.5968,0.5841)" fill="url(#shade)"/><path d="M0.6,77.0 C0.5,73.3 0.6,71.6 1.9,68.0 C3.1,64.4 5.3,59.9 8.1,55.6 C10.8,51.3 14.4,46.5 18.4,42.2 C22.3,37.9 27.0,33.8 31.8,29.8 C36.6,25.8 41.3,22.0 47.3,18.4 C53.3,14.8 61.1,10.7 68.0,8.1 C74.9,5.5 82.4,4.1 88.7,2.9 C95.0,1.7 99.9,1.3 105.7,0.9 C111.5,0.5 117.9,-0.1 123.4,0.5 C128.9,1.1 134.1,2.4 138.6,4.3 C143.1,6.2 146.9,8.9 150.7,11.9 C154.5,14.9 157.8,18.2 161.3,22.5 C164.8,26.8 168.4,32.7 171.9,37.7 C175.4,42.8 179.2,47.8 182.5,52.8 C185.8,57.8 189.3,63.5 191.6,68.0 C193.9,72.5 195.5,76.8 196.2,80.1 C196.9,83.3 196.8,85.2 195.8,87.5 C194.9,89.8 193.0,92.2 190.5,94.0 C188.0,95.8 184.0,97.1 180.7,98.2 C177.4,99.3 174.0,99.9 170.7,100.7 C167.4,101.5 165.4,101.2 160.7,103.2 C156.0,105.2 149.8,109.8 142.7,113.0 C135.6,116.2 126.4,119.7 118.2,122.7 C110.0,125.7 100.5,129.1 93.7,130.9 C86.9,132.7 80.7,133.4 77.3,133.4 C73.9,133.4 74.9,132.4 73.3,130.9 C71.7,129.4 69.3,126.7 67.5,124.4 C65.7,122.1 64.6,118.9 62.7,117.0 C60.8,115.1 60.2,114.2 56.1,113.0 C52.0,111.8 44.2,110.8 38.2,109.7 C32.2,108.6 25.1,108.0 20.2,106.4 C15.3,104.8 11.8,102.6 8.8,99.9 C5.8,97.2 3.6,93.9 2.2,90.1 C0.8,86.3 0.7,80.7 0.6,77.0Z" transform="translate(135.9,194.2) scale(0.5968,0.5841)" fill="none" stroke="#000" stroke-opacity="0.5" stroke-width="8.38" filter="url(#rimblur2)"/></g>
<g clip-path="url(#c2)"><g filter="url(#f2)"><rect x="274" y="71.9" width="122" height="88" fill="rgb(153,153,153)"/><ellipse cx="337.5" cy="97.2" rx="22" ry="14" fill="rgb(82,82,82)"/><ellipse cx="296.3" cy="104.4" rx="14" ry="6" fill="rgb(82,82,82)"/><ellipse cx="368" cy="129.5" rx="5" ry="6" fill="rgb(82,82,82)"/><ellipse cx="376.9" cy="113.4" rx="4" ry="4" fill="rgb(82,82,82)"/><ellipse cx="359" cy="122.3" rx="8" ry="5" fill="rgb(194,194,194)"/><ellipse cx="340" cy="95" rx="6" ry="4" fill="rgb(71,71,71)"/></g><path d="M146,476 C160,470.5 178,467.5 195,467.8 C178,469.8 162,473.5 146,476Z" transform="translate(277,74.9) scale(0.5912,0.6156) translate(-89.3,-399.3)" fill="#000" fill-opacity="0.75" stroke="#000" stroke-opacity="0.3" stroke-width="1.69"/><path d="M0.6,77.0 C0.5,73.3 0.6,71.6 1.9,68.0 C3.1,64.4 5.3,59.9 8.1,55.6 C10.8,51.3 14.4,46.5 18.4,42.2 C22.3,37.9 27.0,33.8 31.8,29.8 C36.6,25.8 41.3,22.0 47.3,18.4 C53.3,14.8 61.1,10.7 68.0,8.1 C74.9,5.5 82.4,4.1 88.7,2.9 C95.0,1.7 99.9,1.3 105.7,0.9 C111.5,0.5 117.9,-0.1 123.4,0.5 C128.9,1.1 134.1,2.4 138.6,4.3 C143.1,6.2 146.9,8.9 150.7,11.9 C154.5,14.9 157.8,18.2 161.3,22.5 C164.8,26.8 168.4,32.7 171.9,37.7 C175.4,42.8 179.2,47.8 182.5,52.8 C185.8,57.8 189.3,63.5 191.6,68.0 C193.9,72.5 195.5,76.8 196.2,80.1 C196.9,83.3 196.8,85.2 195.8,87.5 C194.9,89.8 193.0,92.2 190.5,94.0 C188.0,95.8 184.0,97.1 180.7,98.2 C177.4,99.3 174.0,99.9 170.7,100.7 C167.4,101.5 165.4,101.2 160.7,103.2 C156.0,105.2 149.8,109.8 142.7,113.0 C135.6,116.2 126.4,119.7 118.2,122.7 C110.0,125.7 100.5,129.1 93.7,130.9 C86.9,132.7 80.7,133.4 77.3,133.4 C73.9,133.4 74.9,132.4 73.3,130.9 C71.7,129.4 69.3,126.7 67.5,124.4 C65.7,122.1 64.6,118.9 62.7,117.0 C60.8,115.1 60.2,114.2 56.1,113.0 C52.0,111.8 44.2,110.8 38.2,109.7 C32.2,108.6 25.1,108.0 20.2,106.4 C15.3,104.8 11.8,102.6 8.8,99.9 C5.8,97.2 3.6,93.9 2.2,90.1 C0.8,86.3 0.7,80.7 0.6,77.0Z" transform="translate(277,74.9) scale(0.5912,0.6156)" fill="url(#shade)"/><path d="M0.6,77.0 C0.5,73.3 0.6,71.6 1.9,68.0 C3.1,64.4 5.3,59.9 8.1,55.6 C10.8,51.3 14.4,46.5 18.4,42.2 C22.3,37.9 27.0,33.8 31.8,29.8 C36.6,25.8 41.3,22.0 47.3,18.4 C53.3,14.8 61.1,10.7 68.0,8.1 C74.9,5.5 82.4,4.1 88.7,2.9 C95.0,1.7 99.9,1.3 105.7,0.9 C111.5,0.5 117.9,-0.1 123.4,0.5 C128.9,1.1 134.1,2.4 138.6,4.3 C143.1,6.2 146.9,8.9 150.7,11.9 C154.5,14.9 157.8,18.2 161.3,22.5 C164.8,26.8 168.4,32.7 171.9,37.7 C175.4,42.8 179.2,47.8 182.5,52.8 C185.8,57.8 189.3,63.5 191.6,68.0 C193.9,72.5 195.5,76.8 196.2,80.1 C196.9,83.3 196.8,85.2 195.8,87.5 C194.9,89.8 193.0,92.2 190.5,94.0 C188.0,95.8 184.0,97.1 180.7,98.2 C177.4,99.3 174.0,99.9 170.7,100.7 C167.4,101.5 165.4,101.2 160.7,103.2 C156.0,105.2 149.8,109.8 142.7,113.0 C135.6,116.2 126.4,119.7 118.2,122.7 C110.0,125.7 100.5,129.1 93.7,130.9 C86.9,132.7 80.7,133.4 77.3,133.4 C73.9,133.4 74.9,132.4 73.3,130.9 C71.7,129.4 69.3,126.7 67.5,124.4 C65.7,122.1 64.6,118.9 62.7,117.0 C60.8,115.1 60.2,114.2 56.1,113.0 C52.0,111.8 44.2,110.8 38.2,109.7 C32.2,108.6 25.1,108.0 20.2,106.4 C15.3,104.8 11.8,102.6 8.8,99.9 C5.8,97.2 3.6,93.9 2.2,90.1 C0.8,86.3 0.7,80.7 0.6,77.0Z" transform="translate(277,74.9) scale(0.5912,0.6156)" fill="none" stroke="#000" stroke-opacity="0.5" stroke-width="8.46" filter="url(#rimblur2)"/></g>
<g clip-path="url(#c3)"><g filter="url(#f3)"><rect x="235" y="107.7" width="121.6" height="82" fill="rgb(153,153,153)"/><ellipse cx="274.8" cy="160" rx="30" ry="10" fill="rgb(82,82,82)"/><ellipse cx="299.9" cy="140.2" rx="16" ry="7" fill="rgb(82,82,82)"/><ellipse cx="310.6" cy="118.7" rx="12" ry="5" fill="rgb(82,82,82)"/><ellipse cx="332.1" cy="161.7" rx="5" ry="4" fill="rgb(82,82,82)"/><ellipse cx="330.3" cy="140.2" rx="6" ry="8" fill="rgb(209,209,209)"/><ellipse cx="312.4" cy="120.5" rx="4" ry="3" fill="rgb(199,199,199)"/><ellipse cx="250" cy="150" rx="8" ry="8" fill="rgb(82,82,82)"/></g><path d="M146,476 C160,470.5 178,467.5 195,467.8 C178,469.8 162,473.5 146,476Z" transform="translate(238,110.7) scale(0.5892,0.5706) translate(-89.3,-399.3)" fill="#000" fill-opacity="0.75" stroke="#000" stroke-opacity="0.3" stroke-width="1.70"/><path d="M0.6,77.0 C0.5,73.3 0.6,71.6 1.9,68.0 C3.1,64.4 5.3,59.9 8.1,55.6 C10.8,51.3 14.4,46.5 18.4,42.2 C22.3,37.9 27.0,33.8 31.8,29.8 C36.6,25.8 41.3,22.0 47.3,18.4 C53.3,14.8 61.1,10.7 68.0,8.1 C74.9,5.5 82.4,4.1 88.7,2.9 C95.0,1.7 99.9,1.3 105.7,0.9 C111.5,0.5 117.9,-0.1 123.4,0.5 C128.9,1.1 134.1,2.4 138.6,4.3 C143.1,6.2 146.9,8.9 150.7,11.9 C154.5,14.9 157.8,18.2 161.3,22.5 C164.8,26.8 168.4,32.7 171.9,37.7 C175.4,42.8 179.2,47.8 182.5,52.8 C185.8,57.8 189.3,63.5 191.6,68.0 C193.9,72.5 195.5,76.8 196.2,80.1 C196.9,83.3 196.8,85.2 195.8,87.5 C194.9,89.8 193.0,92.2 190.5,94.0 C188.0,95.8 184.0,97.1 180.7,98.2 C177.4,99.3 174.0,99.9 170.7,100.7 C167.4,101.5 165.4,101.2 160.7,103.2 C156.0,105.2 149.8,109.8 142.7,113.0 C135.6,116.2 126.4,119.7 118.2,122.7 C110.0,125.7 100.5,129.1 93.7,130.9 C86.9,132.7 80.7,133.4 77.3,133.4 C73.9,133.4 74.9,132.4 73.3,130.9 C71.7,129.4 69.3,126.7 67.5,124.4 C65.7,122.1 64.6,118.9 62.7,117.0 C60.8,115.1 60.2,114.2 56.1,113.0 C52.0,111.8 44.2,110.8 38.2,109.7 C32.2,108.6 25.1,108.0 20.2,106.4 C15.3,104.8 11.8,102.6 8.8,99.9 C5.8,97.2 3.6,93.9 2.2,90.1 C0.8,86.3 0.7,80.7 0.6,77.0Z" transform="translate(238,110.7) scale(0.5892,0.5706)" fill="url(#shade)"/><path d="M0.6,77.0 C0.5,73.3 0.6,71.6 1.9,68.0 C3.1,64.4 5.3,59.9 8.1,55.6 C10.8,51.3 14.4,46.5 18.4,42.2 C22.3,37.9 27.0,33.8 31.8,29.8 C36.6,25.8 41.3,22.0 47.3,18.4 C53.3,14.8 61.1,10.7 68.0,8.1 C74.9,5.5 82.4,4.1 88.7,2.9 C95.0,1.7 99.9,1.3 105.7,0.9 C111.5,0.5 117.9,-0.1 123.4,0.5 C128.9,1.1 134.1,2.4 138.6,4.3 C143.1,6.2 146.9,8.9 150.7,11.9 C154.5,14.9 157.8,18.2 161.3,22.5 C164.8,26.8 168.4,32.7 171.9,37.7 C175.4,42.8 179.2,47.8 182.5,52.8 C185.8,57.8 189.3,63.5 191.6,68.0 C193.9,72.5 195.5,76.8 196.2,80.1 C196.9,83.3 196.8,85.2 195.8,87.5 C194.9,89.8 193.0,92.2 190.5,94.0 C188.0,95.8 184.0,97.1 180.7,98.2 C177.4,99.3 174.0,99.9 170.7,100.7 C167.4,101.5 165.4,101.2 160.7,103.2 C156.0,105.2 149.8,109.8 142.7,113.0 C135.6,116.2 126.4,119.7 118.2,122.7 C110.0,125.7 100.5,129.1 93.7,130.9 C86.9,132.7 80.7,133.4 77.3,133.4 C73.9,133.4 74.9,132.4 73.3,130.9 C71.7,129.4 69.3,126.7 67.5,124.4 C65.7,122.1 64.6,118.9 62.7,117.0 C60.8,115.1 60.2,114.2 56.1,113.0 C52.0,111.8 44.2,110.8 38.2,109.7 C32.2,108.6 25.1,108.0 20.2,106.4 C15.3,104.8 11.8,102.6 8.8,99.9 C5.8,97.2 3.6,93.9 2.2,90.1 C0.8,86.3 0.7,80.7 0.6,77.0Z" transform="translate(238,110.7) scale(0.5892,0.5706)" fill="none" stroke="#000" stroke-opacity="0.5" stroke-width="8.49" filter="url(#rimblur2)"/></g>
<g clip-path="url(#c4)"><g filter="url(#f4)"><rect x="669.9" y="57.5" width="100" height="116" fill="rgb(153,153,153)"/><ellipse cx="731.4" cy="127.3" rx="20" ry="25" fill="rgb(82,82,82)"/><ellipse cx="724.4" cy="68.7" rx="12" ry="5" fill="rgb(82,82,82)"/><ellipse cx="750.2" cy="87.5" rx="6" ry="12" fill="rgb(82,82,82)"/><ellipse cx="722.1" cy="94.5" rx="6" ry="4" fill="rgb(199,199,199)"/><ellipse cx="724.4" cy="155.4" rx="5" ry="4" fill="rgb(71,71,71)"/></g></g>
<g clip-path="url(#c5)"><g filter="url(#f5)"><rect x="613.7" y="96.2" width="102" height="113.7" fill="rgb(153,153,153)"/><ellipse cx="682.3" cy="167.1" rx="20" ry="25" fill="rgb(82,82,82)"/><ellipse cx="628.4" cy="162.4" rx="8" ry="10" fill="rgb(82,82,82)"/><ellipse cx="647.1" cy="108.5" rx="12" ry="5" fill="rgb(82,82,82)"/><ellipse cx="651.8" cy="141.3" rx="10" ry="6" fill="rgb(82,82,82)"/><ellipse cx="658.9" cy="127.3" rx="5" ry="3" fill="rgb(217,217,217)"/><ellipse cx="690" cy="175" rx="5" ry="4" fill="rgb(71,71,71)"/></g></g>
<g clip-path="url(#c6)"><g filter="url(#f6)"><rect x="511.9" y="178.6" width="108" height="118" fill="rgb(153,153,153)"/><ellipse cx="549.8" cy="229.1" rx="14" ry="10" fill="rgb(82,82,82)"/><ellipse cx="573.1" cy="241.6" rx="10" ry="12" fill="rgb(82,82,82)"/><ellipse cx="540.8" cy="254.2" rx="10" ry="12" fill="rgb(82,82,82)"/><ellipse cx="573.1" cy="270.3" rx="12" ry="8" fill="rgb(82,82,82)"/><ellipse cx="564.1" cy="187.9" rx="8" ry="5" fill="rgb(82,82,82)"/><ellipse cx="591" cy="205.8" rx="6" ry="8" fill="rgb(82,82,82)"/><ellipse cx="601.7" cy="232.7" rx="6" ry="12" fill="rgb(82,82,82)"/><ellipse cx="522.9" cy="241.6" rx="5" ry="8" fill="rgb(82,82,82)"/><ellipse cx="573.1" cy="214.8" rx="4" ry="4" fill="rgb(204,204,204)"/><ellipse cx="582" cy="259.6" rx="4" ry="3" fill="rgb(199,199,199)"/><ellipse cx="571.3" cy="277.5" rx="6" ry="4" fill="rgb(69,69,69)"/></g></g>
<g clip-path="url(#c7)"><g transform="translate(89.3,399.3) scale(1.0000,1.0000) translate(-89.3,-399.3)"><g filter="url(#bigf)"><use href="#bigtex"/></g><path d="M146,476 C160,470.5 178,467.5 195,467.8 C178,469.8 162,473.5 146,476Z" fill="#000" fill-opacity="0.8" stroke="#000" stroke-opacity="0.35" stroke-width="1.2" filter="url(#sblur)"/></g><path d="M0.6,77.0 C0.5,73.3 0.6,71.6 1.9,68.0 C3.1,64.4 5.3,59.9 8.1,55.6 C10.8,51.3 14.4,46.5 18.4,42.2 C22.3,37.9 27.0,33.8 31.8,29.8 C36.6,25.8 41.3,22.0 47.3,18.4 C53.3,14.8 61.1,10.7 68.0,8.1 C74.9,5.5 82.4,4.1 88.7,2.9 C95.0,1.7 99.9,1.3 105.7,0.9 C111.5,0.5 117.9,-0.1 123.4,0.5 C128.9,1.1 134.1,2.4 138.6,4.3 C143.1,6.2 146.9,8.9 150.7,11.9 C154.5,14.9 157.8,18.2 161.3,22.5 C164.8,26.8 168.4,32.7 171.9,37.7 C175.4,42.8 179.2,47.8 182.5,52.8 C185.8,57.8 189.3,63.5 191.6,68.0 C193.9,72.5 195.5,76.8 196.2,80.1 C196.9,83.3 196.8,85.2 195.8,87.5 C194.9,89.8 193.0,92.2 190.5,94.0 C188.0,95.8 184.0,97.1 180.7,98.2 C177.4,99.3 174.0,99.9 170.7,100.7 C167.4,101.5 165.4,101.2 160.7,103.2 C156.0,105.2 149.8,109.8 142.7,113.0 C135.6,116.2 126.4,119.7 118.2,122.7 C110.0,125.7 100.5,129.1 93.7,130.9 C86.9,132.7 80.7,133.4 77.3,133.4 C73.9,133.4 74.9,132.4 73.3,130.9 C71.7,129.4 69.3,126.7 67.5,124.4 C65.7,122.1 64.6,118.9 62.7,117.0 C60.8,115.1 60.2,114.2 56.1,113.0 C52.0,111.8 44.2,110.8 38.2,109.7 C32.2,108.6 25.1,108.0 20.2,106.4 C15.3,104.8 11.8,102.6 8.8,99.9 C5.8,97.2 3.6,93.9 2.2,90.1 C0.8,86.3 0.7,80.7 0.6,77.0Z" transform="translate(89.3,399.3) scale(1.0000,1.0000)" fill="url(#shade)"/><path d="M0.6,77.0 C0.5,73.3 0.6,71.6 1.9,68.0 C3.1,64.4 5.3,59.9 8.1,55.6 C10.8,51.3 14.4,46.5 18.4,42.2 C22.3,37.9 27.0,33.8 31.8,29.8 C36.6,25.8 41.3,22.0 47.3,18.4 C53.3,14.8 61.1,10.7 68.0,8.1 C74.9,5.5 82.4,4.1 88.7,2.9 C95.0,1.7 99.9,1.3 105.7,0.9 C111.5,0.5 117.9,-0.1 123.4,0.5 C128.9,1.1 134.1,2.4 138.6,4.3 C143.1,6.2 146.9,8.9 150.7,11.9 C154.5,14.9 157.8,18.2 161.3,22.5 C164.8,26.8 168.4,32.7 171.9,37.7 C175.4,42.8 179.2,47.8 182.5,52.8 C185.8,57.8 189.3,63.5 191.6,68.0 C193.9,72.5 195.5,76.8 196.2,80.1 C196.9,83.3 196.8,85.2 195.8,87.5 C194.9,89.8 193.0,92.2 190.5,94.0 C188.0,95.8 184.0,97.1 180.7,98.2 C177.4,99.3 174.0,99.9 170.7,100.7 C167.4,101.5 165.4,101.2 160.7,103.2 C156.0,105.2 149.8,109.8 142.7,113.0 C135.6,116.2 126.4,119.7 118.2,122.7 C110.0,125.7 100.5,129.1 93.7,130.9 C86.9,132.7 80.7,133.4 77.3,133.4 C73.9,133.4 74.9,132.4 73.3,130.9 C71.7,129.4 69.3,126.7 67.5,124.4 C65.7,122.1 64.6,118.9 62.7,117.0 C60.8,115.1 60.2,114.2 56.1,113.0 C52.0,111.8 44.2,110.8 38.2,109.7 C32.2,108.6 25.1,108.0 20.2,106.4 C15.3,104.8 11.8,102.6 8.8,99.9 C5.8,97.2 3.6,93.9 2.2,90.1 C0.8,86.3 0.7,80.7 0.6,77.0Z" transform="translate(89.3,399.3) scale(1.0000,1.0000)" fill="none" stroke="#000" stroke-opacity="0.55" stroke-width="7.00" filter="url(#rimblur)"/></g><path d="M74.3,132.5 L74.5,130.5 L74.6,128.4 L74.9,126.4 L74.4,124.7 L76.0,123.2 L76.0,120.6 L78.0,119.4 L79.9,118.3 L80.7,116.4 L82.9,115.7 L84.1,113.4 L86.3,112.9 L88.0,111.5 L90.1,110.9 L92.1,109.8 L93.5,107.9 L95.6,107.1 L97.6,106.1 L100.0,106.0 L101.8,104.7 L103.1,102.7 L105.5,102.4 L106.4,100.2 L108.5,99.7 L109.6,97.7 L111.1,96.3 L113.4,96.5 L115.3,95.0 L117.5,94.6 L119.8,95.7 L121.9,95.1 L123.8,93.8 L126.1,94.6 L128.2,93.6 L130.3,93.5 L132.3,92.3 L134.9,93.2 L136.7,91.6 L139.0,90.8 L141.0,89.4 L142.5,87.3 L144.7,86.1 L146.7,84.4 L148.7,83.2 L150.1,81.6 L151.8,80.4 L153.6,79.4 L155.4,77.0 L156.8,79.3 L159.3,80.2 L160.5,82.6 L160.9,84.9 L160.2,87.7 L159.3,89.9 L160.1,92.0 L160.9,94.1 L163.1,96.0 L160.6,98.4 L161.0,102.2 L158.4,102.3 L156.4,103.2 L155.2,105.7 L152.5,105.6 L150.8,107.3 L148.7,108.1 L146.9,109.4 L144.8,110.3 L142.7,111.1 L140.5,111.5 L138.7,112.9 L136.5,113.5 L134.4,114.3 L132.5,115.1 L130.8,116.2 L128.9,117.0 L127.0,117.6 L125.0,118.2 L123.3,119.4 L121.2,119.7 L119.3,120.4 L117.4,121.1 L115.8,122.4 L113.7,122.6 L112.0,123.9 L110.0,124.5 L108.0,125.0 L106.0,125.4 L104.2,126.5 L102.1,126.7 L100.2,127.6 L98.3,128.4 L96.3,129.1 L94.4,129.8 L92.5,130.5 L90.4,131.1 L88.2,131.2 L86.0,131.4 L83.9,132.4 L81.7,132.9 L79.4,132.6 L77.3,133.4Z" transform="translate(89.3,399.3) scale(1.0000,1.0000)" fill="#fafafa" stroke="#000" stroke-width="1.60"/>
<g clip-path="url(#c8)"><g filter="url(#f8)"><rect x="745.8" y="387.2" width="110.1" height="119.6" fill="rgb(153,153,153)"/><ellipse cx="764.3" cy="409.1" rx="8" ry="12" fill="rgb(82,82,82)"/><ellipse cx="797" cy="422.9" rx="14" ry="8" fill="rgb(82,82,82)"/><ellipse cx="793.5" cy="421.2" rx="5" ry="4" fill="rgb(69,69,69)"/><ellipse cx="829.7" cy="431.5" rx="14" ry="10" fill="rgb(82,82,82)"/><ellipse cx="764.3" cy="447" rx="12" ry="10" fill="rgb(82,82,82)"/><ellipse cx="790.1" cy="478" rx="20" ry="12" fill="rgb(82,82,82)"/><ellipse cx="824.5" cy="476.3" rx="10" ry="8" fill="rgb(82,82,82)"/><ellipse cx="815.9" cy="445.3" rx="8" ry="8" fill="rgb(82,82,82)"/><ellipse cx="795.3" cy="405.7" rx="20" ry="8" fill="rgb(199,199,199)"/><ellipse cx="797" cy="407.4" rx="5" ry="3" fill="rgb(217,217,217)"/><ellipse cx="760.8" cy="471.1" rx="5" ry="4" fill="rgb(194,194,194)"/></g></g>
<g clip-path="url(#c9)"><g filter="url(#f9)"><rect x="517.8" y="520.4" width="112.9" height="124" fill="rgb(153,153,153)"/><ellipse cx="551.5" cy="529.9" rx="10" ry="6" fill="rgb(82,82,82)"/><ellipse cx="595" cy="535" rx="12" ry="9" fill="rgb(82,82,82)"/><ellipse cx="606" cy="548" rx="6" ry="6" fill="rgb(82,82,82)"/><ellipse cx="542.2" cy="550.3" rx="8" ry="12" fill="rgb(82,82,82)"/><ellipse cx="544" cy="548.5" rx="3" ry="6" fill="rgb(69,69,69)"/><ellipse cx="562.6" cy="563.3" rx="12" ry="10" fill="rgb(82,82,82)"/><ellipse cx="564.5" cy="555.9" rx="5" ry="3" fill="rgb(71,71,71)"/><ellipse cx="598" cy="593.1" rx="10" ry="9" fill="rgb(82,82,82)"/><ellipse cx="527.3" cy="589.4" rx="6" ry="9" fill="rgb(82,82,82)"/><ellipse cx="564.5" cy="611.7" rx="14" ry="7" fill="rgb(82,82,82)"/><ellipse cx="571.9" cy="609.8" rx="4" ry="3" fill="rgb(69,69,69)"/><ellipse cx="601.7" cy="619.1" rx="7" ry="7" fill="rgb(82,82,82)"/><ellipse cx="560.8" cy="632.1" rx="5" ry="5" fill="rgb(82,82,82)"/><ellipse cx="616" cy="566" rx="5" ry="14" fill="rgb(82,82,82)"/><ellipse cx="590.5" cy="608" rx="6" ry="4" fill="rgb(199,199,199)"/></g><path d="M579.5,554.1 C580.0,552.7 586.2,548.0 588.1,547.4 C590.0,546.8 591.8,548.4 593.9,549.3 C596.0,550.2 601.3,552.7 603.6,554.1 C605.9,555.5 609.5,558.0 611.3,559.9 C613.1,561.8 616.1,566.4 617.1,568.6 C618.1,570.8 618.9,574.4 619.0,576.3 C619.1,578.2 618.9,582.1 618.0,583.0 C617.1,583.9 614.0,583.9 612.3,583.0 C610.6,582.1 607.7,578.2 605.5,576.3 C603.3,574.4 597.7,570.5 595.9,568.6 C594.1,566.7 593.5,563.2 592.0,561.8 C590.5,560.4 586.0,559.0 584.3,558.0 C582.6,557.0 579.0,555.5 579.5,554.1Z" fill="#fafafa"/><path d="M611.3,593.6 L619.0,589.8 L622.9,587.9 L627.7,593.6 L619.0,595.6 L613.2,599.4Z" fill="#6e6e6e"/></g>
<g clip-path="url(#c10)"><g transform="translate(1038,403) scale(0.9929,0.9760) translate(-89.3,-399.3)"><g filter="url(#bigf)"><use href="#bigtex"/></g><path d="M146,476 C160,470.5 178,467.5 195,467.8 C178,469.8 162,473.5 146,476Z" fill="#000" fill-opacity="0.8" stroke="#000" stroke-opacity="0.35" stroke-width="1.2" filter="url(#sblur)"/></g><path d="M0.6,77.0 C0.5,73.3 0.6,71.6 1.9,68.0 C3.1,64.4 5.3,59.9 8.1,55.6 C10.8,51.3 14.4,46.5 18.4,42.2 C22.3,37.9 27.0,33.8 31.8,29.8 C36.6,25.8 41.3,22.0 47.3,18.4 C53.3,14.8 61.1,10.7 68.0,8.1 C74.9,5.5 82.4,4.1 88.7,2.9 C95.0,1.7 99.9,1.3 105.7,0.9 C111.5,0.5 117.9,-0.1 123.4,0.5 C128.9,1.1 134.1,2.4 138.6,4.3 C143.1,6.2 146.9,8.9 150.7,11.9 C154.5,14.9 157.8,18.2 161.3,22.5 C164.8,26.8 168.4,32.7 171.9,37.7 C175.4,42.8 179.2,47.8 182.5,52.8 C185.8,57.8 189.3,63.5 191.6,68.0 C193.9,72.5 195.5,76.8 196.2,80.1 C196.9,83.3 196.8,85.2 195.8,87.5 C194.9,89.8 193.0,92.2 190.5,94.0 C188.0,95.8 184.0,97.1 180.7,98.2 C177.4,99.3 174.0,99.9 170.7,100.7 C167.4,101.5 165.4,101.2 160.7,103.2 C156.0,105.2 149.8,109.8 142.7,113.0 C135.6,116.2 126.4,119.7 118.2,122.7 C110.0,125.7 100.5,129.1 93.7,130.9 C86.9,132.7 80.7,133.4 77.3,133.4 C73.9,133.4 74.9,132.4 73.3,130.9 C71.7,129.4 69.3,126.7 67.5,124.4 C65.7,122.1 64.6,118.9 62.7,117.0 C60.8,115.1 60.2,114.2 56.1,113.0 C52.0,111.8 44.2,110.8 38.2,109.7 C32.2,108.6 25.1,108.0 20.2,106.4 C15.3,104.8 11.8,102.6 8.8,99.9 C5.8,97.2 3.6,93.9 2.2,90.1 C0.8,86.3 0.7,80.7 0.6,77.0Z" transform="translate(1038,403) scale(0.9929,0.9760)" fill="url(#shade)"/><path d="M0.6,77.0 C0.5,73.3 0.6,71.6 1.9,68.0 C3.1,64.4 5.3,59.9 8.1,55.6 C10.8,51.3 14.4,46.5 18.4,42.2 C22.3,37.9 27.0,33.8 31.8,29.8 C36.6,25.8 41.3,22.0 47.3,18.4 C53.3,14.8 61.1,10.7 68.0,8.1 C74.9,5.5 82.4,4.1 88.7,2.9 C95.0,1.7 99.9,1.3 105.7,0.9 C111.5,0.5 117.9,-0.1 123.4,0.5 C128.9,1.1 134.1,2.4 138.6,4.3 C143.1,6.2 146.9,8.9 150.7,11.9 C154.5,14.9 157.8,18.2 161.3,22.5 C164.8,26.8 168.4,32.7 171.9,37.7 C175.4,42.8 179.2,47.8 182.5,52.8 C185.8,57.8 189.3,63.5 191.6,68.0 C193.9,72.5 195.5,76.8 196.2,80.1 C196.9,83.3 196.8,85.2 195.8,87.5 C194.9,89.8 193.0,92.2 190.5,94.0 C188.0,95.8 184.0,97.1 180.7,98.2 C177.4,99.3 174.0,99.9 170.7,100.7 C167.4,101.5 165.4,101.2 160.7,103.2 C156.0,105.2 149.8,109.8 142.7,113.0 C135.6,116.2 126.4,119.7 118.2,122.7 C110.0,125.7 100.5,129.1 93.7,130.9 C86.9,132.7 80.7,133.4 77.3,133.4 C73.9,133.4 74.9,132.4 73.3,130.9 C71.7,129.4 69.3,126.7 67.5,124.4 C65.7,122.1 64.6,118.9 62.7,117.0 C60.8,115.1 60.2,114.2 56.1,113.0 C52.0,111.8 44.2,110.8 38.2,109.7 C32.2,108.6 25.1,108.0 20.2,106.4 C15.3,104.8 11.8,102.6 8.8,99.9 C5.8,97.2 3.6,93.9 2.2,90.1 C0.8,86.3 0.7,80.7 0.6,77.0Z" transform="translate(1038,403) scale(0.9929,0.9760)" fill="none" stroke="#000" stroke-opacity="0.55" stroke-width="7.05" filter="url(#rimblur)"/></g><path d="M74.3,132.5 L74.5,130.5 L74.6,128.4 L74.9,126.4 L74.4,124.7 L76.0,123.2 L76.0,120.6 L78.0,119.4 L79.9,118.3 L80.7,116.4 L82.9,115.7 L84.1,113.4 L86.3,112.9 L88.0,111.5 L90.1,110.9 L92.1,109.8 L93.5,107.9 L95.6,107.1 L97.6,106.1 L100.0,106.0 L101.8,104.7 L103.1,102.7 L105.5,102.4 L106.4,100.2 L108.5,99.7 L109.6,97.7 L111.1,96.3 L113.4,96.5 L115.3,95.0 L117.5,94.6 L119.8,95.7 L121.9,95.1 L123.8,93.8 L126.1,94.6 L128.2,93.6 L130.3,93.5 L132.3,92.3 L134.9,93.2 L136.7,91.6 L139.0,90.8 L141.0,89.4 L142.5,87.3 L144.7,86.1 L146.7,84.4 L148.7,83.2 L150.1,81.6 L151.8,80.4 L153.6,79.4 L155.4,77.0 L156.8,79.3 L159.3,80.2 L160.5,82.6 L160.9,84.9 L160.2,87.7 L159.3,89.9 L160.1,92.0 L160.9,94.1 L163.1,96.0 L160.6,98.4 L161.0,102.2 L158.4,102.3 L156.4,103.2 L155.2,105.7 L152.5,105.6 L150.8,107.3" transform="translate(1038,403) scale(0.9929,0.9760)" fill="none" stroke="#fff" stroke-width="1.61" stroke-linejoin="round"/>

<path d="M414.05,189.15 L453.35,189.15 L453.35,181.89 L468.46,197.00 L453.35,212.11 L453.35,204.85 L414.05,204.85Z" fill="#fff" stroke="#000" stroke-width="1.9" stroke-linejoin="miter" stroke-miterlimit="10"/>
<path d="M797.05,189.15 L836.35,189.15 L836.35,181.89 L851.46,197.00 L836.35,212.11 L836.35,204.85 L797.05,204.85Z" fill="#fff" stroke="#000" stroke-width="1.9" stroke-linejoin="miter" stroke-miterlimit="10"/>
<rect x="888.3" y="157" width="166.4" height="81" rx="22" fill="#fff" stroke="#000" stroke-width="2.1"/>

<rect x="364" y="411.9" width="8.9" height="75" fill="#af2019"/>
<text x="345.9" y="456.7" font-size="25.8" transform="translate(352,0) scale(1.2,1) translate(-352,0)" font-family="Liberation Sans" fill="#000" stroke="#000" stroke-width="0.35">z</text>
<path d="M394.05,440.45 L433.35,440.45 L433.35,433.19 L448.46,448.30 L433.35,463.41 L433.35,456.15 L394.05,456.15Z" fill="#fff" stroke="#000" stroke-width="1.9" stroke-linejoin="miter" stroke-miterlimit="10"/>
<rect x="469.2" y="405.2" width="189.8" height="80.5" rx="22" fill="#fff" stroke="#000" stroke-width="2.1"/>
<path d="M682.05,440.55 L721.35,440.55 L721.35,433.29 L736.46,448.40 L721.35,463.51 L721.35,456.25 L682.05,456.25Z" fill="#fff" stroke="#000" stroke-width="1.9" stroke-linejoin="miter" stroke-miterlimit="10"/>
<rect x="880" y="446" width="7.5" height="7.5" fill="#000"/>
<rect x="893" y="446" width="7.5" height="7.5" fill="#000"/>
<rect x="906" y="446" width="7.5" height="7.5" fill="#000"/>
<path d="M943.05,443.05 L982.35,443.05 L982.35,435.79 L997.46,450.90 L982.35,466.01 L982.35,458.75 L943.05,458.75Z" fill="#fff" stroke="#000" stroke-width="1.9" stroke-linejoin="miter" stroke-miterlimit="10"/>
<text x="41.7" y="44.5" font-size="25.8" font-weight="bold" font-family="Liberation Sans" fill="#000" stroke="#000" stroke-width="0.35">a</text>
<text x="86.7" y="44.8" font-size="25.8" font-family="Liberation Sans" fill="#000" stroke="#000" stroke-width="0.35">Model training</text>
<text x="37.1" y="364.8" font-size="25.8" font-weight="bold" font-family="Liberation Sans" fill="#000" stroke="#000" stroke-width="0.35">b</text>
<text x="85.3" y="364.8" font-size="25.8" font-family="Liberation Sans" fill="#000" stroke="#000" stroke-width="0.35">Reconstructing BOLD signal</text>
<text x="405.05" y="241.9" font-size="25.8" font-family="Liberation Sans" fill="#000" stroke="#000" stroke-width="0.35">Flatten</text>
<text x="792.85" y="243.9" font-size="25.8" font-family="Liberation Sans" fill="#000" stroke="#000" stroke-width="0.35">Train</text>
<text x="925.05" y="191" font-size="25.8" transform="translate(971,0) scale(1.026,1) translate(-971,0)" font-family="Liberation Sans" fill="#000" stroke="#000" stroke-width="0.35">DCGAN</text>
<text x="936.05" y="222.8" font-size="25.8" font-family="Liberation Sans" fill="#000" stroke="#000" stroke-width="0.35">Model</text>
<text x="517.55" y="438.8" font-size="25.8" transform="translate(563.5,0) scale(1.026,1) translate(-563.5,0)" font-family="Liberation Sans" fill="#000" stroke="#000" stroke-width="0.35">DCGAN</text>
<text x="506.1" y="470.7" font-size="25.8" font-family="Liberation Sans" fill="#000" stroke="#000" stroke-width="0.35">Generator</text>
<text x="341.45" y="529.8" font-size="25.8" font-family="Liberation Sans" fill="#000" stroke="#000" stroke-width="0.35">error</text>
<text x="723.85" y="529.7" font-size="25.8" font-family="Liberation Sans" fill="#000" stroke="#000" stroke-width="0.35">Generated image</text>
<text x="1017.2" y="564.7" font-size="25.8" font-family="Liberation Sans" fill="#000" stroke="#000" stroke-width="0.35">Reconstructed BOLD</text>
<text x="70.2" y="564.7" font-size="25.8" font-family="Liberation Sans" fill="#000" stroke="#000" stroke-width="0.35">Compromised BOLD</text>
<text x="493.9" y="675.9" font-size="25.8" font-family="Liberation Sans" fill="#000" stroke="#000" stroke-width="0.35">Compromised</text>
<text x="538.9" y="707.4" font-size="25.8" font-family="Liberation Sans" fill="#000" stroke="#000" stroke-width="0.35">BOLD</text>

<!-- curved arrows -->
<path d="M504.5,597.2 C445,594 382,578 371.7,558.7 L364.6,558.7 L372.3,544.6 L394.1,558.7 L385.8,558.7 C396,573 450,590 504.5,595.6Z" fill="#fff" stroke="#000" stroke-width="1.9" stroke-linejoin="miter" stroke-miterlimit="10"/>
<path d="M643.4,595.1 C712,588 760,566 760.6,544.6 L746.1,544.6 C745,568 705,585 643.4,593.9Z" fill="#fff" stroke="#000" stroke-width="1.9" stroke-linejoin="miter" stroke-miterlimit="10"/>
</svg>
</body></html>
